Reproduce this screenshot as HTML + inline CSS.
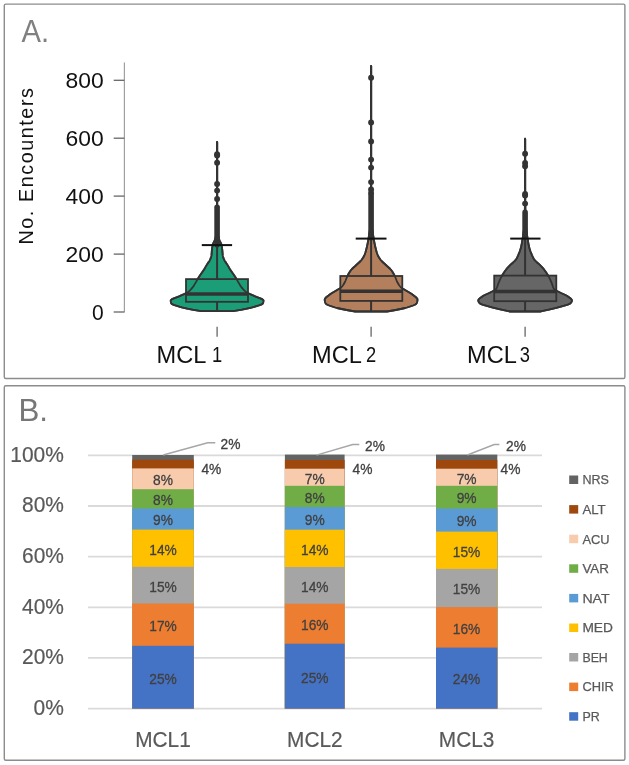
<!DOCTYPE html>
<html><head><meta charset="utf-8"><style>
html,body{margin:0;padding:0;background:#fff;}
svg{display:block;will-change:transform;}
text{font-family:"Liberation Sans",sans-serif;}
</style></head><body>
<svg width="629" height="765" viewBox="0 0 629 765">
<rect width="629" height="765" fill="#fff"/>
<rect x="4.3" y="4.1" width="620.6" height="374.4" rx="1.5" fill="none" stroke="#8c8c8c" stroke-width="1.4"/>
<text x="21.6" y="41.9" font-size="31" fill="#808080" textLength="27.6" lengthAdjust="spacingAndGlyphs">A.</text>
<line x1="124.4" y1="62.5" x2="124.4" y2="312.3" stroke="#a0a0a0" stroke-width="1.2"/>
<line x1="113.7" y1="312.0" x2="124.4" y2="312.0" stroke="#666" stroke-width="1.3"/>
<text x="103.7" y="319.5" font-size="21.3" text-anchor="end" fill="#111" textLength="11.7" lengthAdjust="spacingAndGlyphs">0</text>
<line x1="113.7" y1="254.1" x2="124.4" y2="254.1" stroke="#666" stroke-width="1.3"/>
<text x="103.7" y="261.6" font-size="21.3" text-anchor="end" fill="#111" textLength="38.2" lengthAdjust="spacingAndGlyphs">200</text>
<line x1="113.7" y1="196.1" x2="124.4" y2="196.1" stroke="#666" stroke-width="1.3"/>
<text x="103.7" y="203.6" font-size="21.3" text-anchor="end" fill="#111" textLength="38.2" lengthAdjust="spacingAndGlyphs">400</text>
<line x1="113.7" y1="138.2" x2="124.4" y2="138.2" stroke="#666" stroke-width="1.3"/>
<text x="103.7" y="145.7" font-size="21.3" text-anchor="end" fill="#111" textLength="38.2" lengthAdjust="spacingAndGlyphs">600</text>
<line x1="113.7" y1="80.3" x2="124.4" y2="80.3" stroke="#666" stroke-width="1.3"/>
<text x="103.7" y="87.8" font-size="21.3" text-anchor="end" fill="#111" textLength="38.2" lengthAdjust="spacingAndGlyphs">800</text>
<text transform="translate(33.3,166.3) rotate(-90)" font-size="19.8" text-anchor="middle" fill="#111" textLength="156.5" lengthAdjust="spacing">No. Encounters</text>
<line x1="217.1" y1="326.8" x2="217.1" y2="336.7" stroke="#666" stroke-width="1.3"/>
<line x1="371.1" y1="326.8" x2="371.1" y2="336.7" stroke="#666" stroke-width="1.3"/>
<line x1="525.1" y1="326.8" x2="525.1" y2="336.7" stroke="#666" stroke-width="1.3"/>
<text x="156.5" y="362.6" font-size="23.5" fill="#111" textLength="49.8" lengthAdjust="spacingAndGlyphs">MCL</text>
<text x="212.1" y="361.7" font-size="22" fill="#111" textLength="10.2" lengthAdjust="spacingAndGlyphs">1</text>
<text x="312.09999999999997" y="362.6" font-size="23.5" fill="#111" textLength="49.8" lengthAdjust="spacingAndGlyphs">MCL</text>
<text x="365.90000000000003" y="361.7" font-size="22" fill="#111" textLength="10.2" lengthAdjust="spacingAndGlyphs">2</text>
<text x="467.09999999999997" y="362.6" font-size="23.5" fill="#111" textLength="49.8" lengthAdjust="spacingAndGlyphs">MCL</text>
<text x="519.7" y="361.7" font-size="22" fill="#111" textLength="10.2" lengthAdjust="spacingAndGlyphs">3</text>
<path d="M217.00,141.90 L217.00,142.40 L217.00,142.90 L217.00,143.40 L217.00,143.90 L217.00,144.40 L217.00,144.90 L217.00,145.40 L217.00,145.90 L217.00,146.40 L217.00,146.90 L217.00,147.40 L217.00,147.90 L217.00,148.40 L217.00,148.90 L217.00,149.40 L217.00,149.90 L217.00,150.40 L217.00,150.90 L217.00,151.40 L217.00,151.90 L217.00,152.40 L217.00,152.90 L217.00,153.40 L217.00,153.90 L217.00,154.40 L217.00,154.90 L217.00,155.40 L217.00,155.90 L217.00,156.40 L217.00,156.90 L217.00,157.40 L217.00,157.90 L217.00,158.40 L217.00,158.90 L217.00,159.40 L217.00,159.90 L217.00,160.40 L217.00,160.90 L217.00,161.40 L217.00,161.90 L217.00,162.40 L217.00,162.90 L217.00,163.40 L217.00,163.90 L217.00,164.40 L217.00,164.90 L217.00,165.40 L217.00,165.90 L217.00,166.40 L217.00,166.90 L217.00,167.40 L217.00,167.90 L217.00,168.40 L217.00,168.90 L217.00,169.40 L217.00,169.90 L217.00,170.40 L217.00,170.90 L217.00,171.40 L217.00,171.90 L217.00,172.40 L217.00,172.90 L217.00,173.40 L217.00,173.90 L217.00,174.40 L217.00,174.90 L217.00,175.40 L217.00,175.90 L217.00,176.40 L217.00,176.90 L217.00,177.40 L217.00,177.90 L217.00,178.40 L217.00,178.90 L217.00,179.40 L217.00,179.90 L217.00,180.40 L217.00,180.90 L217.00,181.40 L217.00,181.90 L217.00,182.40 L217.00,182.90 L217.00,183.40 L217.00,183.90 L217.00,184.40 L217.00,184.90 L217.00,185.40 L217.00,185.90 L217.00,186.40 L217.00,186.90 L217.00,187.40 L217.00,187.90 L217.00,188.40 L217.00,188.90 L217.00,189.40 L217.00,189.90 L217.00,190.40 L217.00,190.90 L217.00,191.40 L217.00,191.90 L217.00,192.40 L217.00,192.90 L217.00,193.40 L217.00,193.90 L217.00,194.40 L217.00,194.90 L217.00,195.40 L217.00,195.90 L217.00,196.40 L217.00,196.90 L217.00,197.40 L217.00,197.90 L217.00,198.40 L217.00,198.90 L217.00,199.40 L217.00,199.90 L217.00,200.40 L217.00,200.90 L217.00,201.40 L217.00,201.90 L217.00,202.40 L217.00,202.90 L217.00,203.40 L217.00,203.90 L217.00,204.40 L216.99,204.90 L216.99,205.40 L216.99,205.90 L216.99,206.40 L216.99,206.90 L216.99,207.40 L216.99,207.90 L216.98,208.40 L216.98,208.90 L216.98,209.40 L216.98,209.90 L216.98,210.40 L216.97,210.90 L216.97,211.40 L216.97,211.90 L216.97,212.40 L216.96,212.90 L216.96,213.40 L216.96,213.90 L216.95,214.40 L216.95,214.90 L216.95,215.40 L216.94,215.90 L216.94,216.40 L216.93,216.90 L216.93,217.40 L216.92,217.90 L216.92,218.40 L216.92,218.90 L216.91,219.40 L216.91,219.90 L216.90,220.40 L216.89,220.90 L216.89,221.40 L216.88,221.90 L216.88,222.40 L216.87,222.90 L216.87,223.40 L216.86,223.90 L216.85,224.40 L216.85,224.90 L216.84,225.40 L216.83,225.90 L216.82,226.40 L216.82,226.90 L216.81,227.40 L216.80,227.90 L216.79,228.40 L216.77,228.90 L216.75,229.40 L216.72,229.90 L216.68,230.40 L216.63,230.90 L216.58,231.40 L216.53,231.90 L216.46,232.40 L216.40,232.90 L216.33,233.40 L216.25,233.90 L216.17,234.40 L216.09,234.90 L216.00,235.40 L215.91,235.90 L215.81,236.40 L215.72,236.90 L215.62,237.40 L215.52,237.90 L215.41,238.40 L215.26,238.90 L215.08,239.40 L214.87,239.90 L214.65,240.40 L214.41,240.90 L214.17,241.40 L213.92,241.90 L213.68,242.40 L213.45,242.90 L213.23,243.40 L213.03,243.90 L212.86,244.40 L212.72,244.90 L212.61,245.40 L212.51,245.90 L212.42,246.40 L212.33,246.90 L212.25,247.40 L212.17,247.90 L212.10,248.40 L212.03,248.90 L211.97,249.40 L211.91,249.90 L211.86,250.40 L211.81,250.90 L211.77,251.40 L211.73,251.90 L211.70,252.40 L211.66,252.90 L211.63,253.40 L211.59,253.90 L211.54,254.40 L211.49,254.90 L211.43,255.40 L211.35,255.90 L211.25,256.40 L211.11,256.90 L210.96,257.40 L210.78,257.90 L210.59,258.40 L210.38,258.90 L210.17,259.40 L209.94,259.90 L209.70,260.40 L209.42,260.90 L209.10,261.40 L208.76,261.90 L208.40,262.40 L208.04,262.90 L207.69,263.40 L207.36,263.90 L207.05,264.40 L206.75,264.90 L206.46,265.40 L206.17,265.90 L205.87,266.40 L205.58,266.90 L205.29,267.40 L204.99,267.90 L204.69,268.40 L204.37,268.90 L204.05,269.40 L203.72,269.90 L203.39,270.40 L203.05,270.90 L202.70,271.40 L202.35,271.90 L202.00,272.40 L201.65,272.90 L201.30,273.40 L200.95,273.90 L200.60,274.40 L200.26,274.90 L199.92,275.40 L199.58,275.90 L199.26,276.40 L198.93,276.90 L198.62,277.40 L198.32,277.90 L198.03,278.40 L197.75,278.90 L197.48,279.40 L197.20,279.90 L196.93,280.40 L196.66,280.90 L196.38,281.40 L196.10,281.90 L195.80,282.40 L195.50,282.90 L195.20,283.40 L194.89,283.90 L194.59,284.40 L194.28,284.90 L193.96,285.40 L193.63,285.90 L193.28,286.40 L192.93,286.90 L192.56,287.40 L192.16,287.90 L191.75,288.40 L191.33,288.90 L190.88,289.40 L190.41,289.90 L189.91,290.40 L189.38,290.90 L188.80,291.40 L188.18,291.90 L187.50,292.40 L186.70,292.90 L185.75,293.40 L184.68,293.90 L183.53,294.40 L182.35,294.90 L181.17,295.40 L180.04,295.90 L178.97,296.40 L177.76,296.90 L176.45,297.40 L175.10,297.90 L173.81,298.40 L172.64,298.90 L171.68,299.40 L171.01,299.90 L170.71,300.40 L170.71,300.90 L170.77,301.40 L170.85,301.90 L170.97,302.40 L171.12,302.90 L171.30,303.40 L171.73,303.90 L172.60,304.40 L173.80,304.90 L175.24,305.40 L176.82,305.90 L178.44,306.40 L180.05,306.90 L181.83,307.40 L183.83,307.90 L186.01,308.40 L188.34,308.90 L190.79,309.40 L193.42,309.90 L196.42,310.40 L199.56,310.90 L201.40,311.20 L232.80,311.20 L234.64,310.90 L237.78,310.40 L240.78,309.90 L243.41,309.40 L245.86,308.90 L248.19,308.40 L250.37,307.90 L252.37,307.40 L254.15,306.90 L255.76,306.40 L257.38,305.90 L258.96,305.40 L260.40,304.90 L261.60,304.40 L262.47,303.90 L262.90,303.40 L263.08,302.90 L263.23,302.40 L263.35,301.90 L263.43,301.40 L263.49,300.90 L263.49,300.40 L263.19,299.90 L262.52,299.40 L261.56,298.90 L260.39,298.40 L259.10,297.90 L257.75,297.40 L256.44,296.90 L255.23,296.40 L254.16,295.90 L253.03,295.40 L251.85,294.90 L250.67,294.40 L249.52,293.90 L248.45,293.40 L247.50,292.90 L246.70,292.40 L246.02,291.90 L245.40,291.40 L244.82,290.90 L244.29,290.40 L243.79,289.90 L243.32,289.40 L242.87,288.90 L242.45,288.40 L242.04,287.90 L241.64,287.40 L241.27,286.90 L240.92,286.40 L240.57,285.90 L240.24,285.40 L239.92,284.90 L239.61,284.40 L239.31,283.90 L239.00,283.40 L238.70,282.90 L238.40,282.40 L238.10,281.90 L237.82,281.40 L237.54,280.90 L237.27,280.40 L237.00,279.90 L236.72,279.40 L236.45,278.90 L236.17,278.40 L235.88,277.90 L235.58,277.40 L235.27,276.90 L234.94,276.40 L234.62,275.90 L234.28,275.40 L233.94,274.90 L233.60,274.40 L233.25,273.90 L232.90,273.40 L232.55,272.90 L232.20,272.40 L231.85,271.90 L231.50,271.40 L231.15,270.90 L230.81,270.40 L230.48,269.90 L230.15,269.40 L229.83,268.90 L229.51,268.40 L229.21,267.90 L228.91,267.40 L228.62,266.90 L228.33,266.40 L228.03,265.90 L227.74,265.40 L227.45,264.90 L227.15,264.40 L226.84,263.90 L226.51,263.40 L226.16,262.90 L225.80,262.40 L225.44,261.90 L225.10,261.40 L224.78,260.90 L224.50,260.40 L224.26,259.90 L224.03,259.40 L223.82,258.90 L223.61,258.40 L223.42,257.90 L223.24,257.40 L223.09,256.90 L222.95,256.40 L222.85,255.90 L222.77,255.40 L222.71,254.90 L222.66,254.40 L222.61,253.90 L222.57,253.40 L222.54,252.90 L222.50,252.40 L222.47,251.90 L222.43,251.40 L222.39,250.90 L222.34,250.40 L222.29,249.90 L222.23,249.40 L222.17,248.90 L222.10,248.40 L222.03,247.90 L221.95,247.40 L221.87,246.90 L221.78,246.40 L221.69,245.90 L221.59,245.40 L221.48,244.90 L221.34,244.40 L221.17,243.90 L220.97,243.40 L220.75,242.90 L220.52,242.40 L220.28,241.90 L220.03,241.40 L219.79,240.90 L219.55,240.40 L219.33,239.90 L219.12,239.40 L218.94,238.90 L218.79,238.40 L218.68,237.90 L218.58,237.40 L218.48,236.90 L218.39,236.40 L218.29,235.90 L218.20,235.40 L218.11,234.90 L218.03,234.40 L217.95,233.90 L217.87,233.40 L217.80,232.90 L217.74,232.40 L217.67,231.90 L217.62,231.40 L217.57,230.90 L217.52,230.40 L217.48,229.90 L217.45,229.40 L217.43,228.90 L217.41,228.40 L217.40,227.90 L217.39,227.40 L217.38,226.90 L217.38,226.40 L217.37,225.90 L217.36,225.40 L217.35,224.90 L217.35,224.40 L217.34,223.90 L217.33,223.40 L217.33,222.90 L217.32,222.40 L217.32,221.90 L217.31,221.40 L217.31,220.90 L217.30,220.40 L217.29,219.90 L217.29,219.40 L217.28,218.90 L217.28,218.40 L217.28,217.90 L217.27,217.40 L217.27,216.90 L217.26,216.40 L217.26,215.90 L217.25,215.40 L217.25,214.90 L217.25,214.40 L217.24,213.90 L217.24,213.40 L217.24,212.90 L217.23,212.40 L217.23,211.90 L217.23,211.40 L217.23,210.90 L217.22,210.40 L217.22,209.90 L217.22,209.40 L217.22,208.90 L217.22,208.40 L217.21,207.90 L217.21,207.40 L217.21,206.90 L217.21,206.40 L217.21,205.90 L217.21,205.40 L217.21,204.90 L217.20,204.40 L217.20,203.90 L217.20,203.40 L217.20,202.90 L217.20,202.40 L217.20,201.90 L217.20,201.40 L217.20,200.90 L217.20,200.40 L217.20,199.90 L217.20,199.40 L217.20,198.90 L217.20,198.40 L217.20,197.90 L217.20,197.40 L217.20,196.90 L217.20,196.40 L217.20,195.90 L217.20,195.40 L217.20,194.90 L217.20,194.40 L217.20,193.90 L217.20,193.40 L217.20,192.90 L217.20,192.40 L217.20,191.90 L217.20,191.40 L217.20,190.90 L217.20,190.40 L217.20,189.90 L217.20,189.40 L217.20,188.90 L217.20,188.40 L217.20,187.90 L217.20,187.40 L217.20,186.90 L217.20,186.40 L217.20,185.90 L217.20,185.40 L217.20,184.90 L217.20,184.40 L217.20,183.90 L217.20,183.40 L217.20,182.90 L217.20,182.40 L217.20,181.90 L217.20,181.40 L217.20,180.90 L217.20,180.40 L217.20,179.90 L217.20,179.40 L217.20,178.90 L217.20,178.40 L217.20,177.90 L217.20,177.40 L217.20,176.90 L217.20,176.40 L217.20,175.90 L217.20,175.40 L217.20,174.90 L217.20,174.40 L217.20,173.90 L217.20,173.40 L217.20,172.90 L217.20,172.40 L217.20,171.90 L217.20,171.40 L217.20,170.90 L217.20,170.40 L217.20,169.90 L217.20,169.40 L217.20,168.90 L217.20,168.40 L217.20,167.90 L217.20,167.40 L217.20,166.90 L217.20,166.40 L217.20,165.90 L217.20,165.40 L217.20,164.90 L217.20,164.40 L217.20,163.90 L217.20,163.40 L217.20,162.90 L217.20,162.40 L217.20,161.90 L217.20,161.40 L217.20,160.90 L217.20,160.40 L217.20,159.90 L217.20,159.40 L217.20,158.90 L217.20,158.40 L217.20,157.90 L217.20,157.40 L217.20,156.90 L217.20,156.40 L217.20,155.90 L217.20,155.40 L217.20,154.90 L217.20,154.40 L217.20,153.90 L217.20,153.40 L217.20,152.90 L217.20,152.40 L217.20,151.90 L217.20,151.40 L217.20,150.90 L217.20,150.40 L217.20,149.90 L217.20,149.40 L217.20,148.90 L217.20,148.40 L217.20,147.90 L217.20,147.40 L217.20,146.90 L217.20,146.40 L217.20,145.90 L217.20,145.40 L217.20,144.90 L217.20,144.40 L217.20,143.90 L217.20,143.40 L217.20,142.90 L217.20,142.40 L217.20,141.90 Z" fill="#1b9e77" stroke="#333" stroke-width="1.8" stroke-linejoin="round"/>
<line x1="217.1" y1="141.9" x2="217.1" y2="311.2" stroke="#333" stroke-width="2"/>
<rect x="186.0" y="279.1" width="62.0" height="22.7" fill="#1b9e77"/>
<path d="M217.00,141.90 L217.00,142.40 L217.00,142.90 L217.00,143.40 L217.00,143.90 L217.00,144.40 L217.00,144.90 L217.00,145.40 L217.00,145.90 L217.00,146.40 L217.00,146.90 L217.00,147.40 L217.00,147.90 L217.00,148.40 L217.00,148.90 L217.00,149.40 L217.00,149.90 L217.00,150.40 L217.00,150.90 L217.00,151.40 L217.00,151.90 L217.00,152.40 L217.00,152.90 L217.00,153.40 L217.00,153.90 L217.00,154.40 L217.00,154.90 L217.00,155.40 L217.00,155.90 L217.00,156.40 L217.00,156.90 L217.00,157.40 L217.00,157.90 L217.00,158.40 L217.00,158.90 L217.00,159.40 L217.00,159.90 L217.00,160.40 L217.00,160.90 L217.00,161.40 L217.00,161.90 L217.00,162.40 L217.00,162.90 L217.00,163.40 L217.00,163.90 L217.00,164.40 L217.00,164.90 L217.00,165.40 L217.00,165.90 L217.00,166.40 L217.00,166.90 L217.00,167.40 L217.00,167.90 L217.00,168.40 L217.00,168.90 L217.00,169.40 L217.00,169.90 L217.00,170.40 L217.00,170.90 L217.00,171.40 L217.00,171.90 L217.00,172.40 L217.00,172.90 L217.00,173.40 L217.00,173.90 L217.00,174.40 L217.00,174.90 L217.00,175.40 L217.00,175.90 L217.00,176.40 L217.00,176.90 L217.00,177.40 L217.00,177.90 L217.00,178.40 L217.00,178.90 L217.00,179.40 L217.00,179.90 L217.00,180.40 L217.00,180.90 L217.00,181.40 L217.00,181.90 L217.00,182.40 L217.00,182.90 L217.00,183.40 L217.00,183.90 L217.00,184.40 L217.00,184.90 L217.00,185.40 L217.00,185.90 L217.00,186.40 L217.00,186.90 L217.00,187.40 L217.00,187.90 L217.00,188.40 L217.00,188.90 L217.00,189.40 L217.00,189.90 L217.00,190.40 L217.00,190.90 L217.00,191.40 L217.00,191.90 L217.00,192.40 L217.00,192.90 L217.00,193.40 L217.00,193.90 L217.00,194.40 L217.00,194.90 L217.00,195.40 L217.00,195.90 L217.00,196.40 L217.00,196.90 L217.00,197.40 L217.00,197.90 L217.00,198.40 L217.00,198.90 L217.00,199.40 L217.00,199.90 L217.00,200.40 L217.00,200.90 L217.00,201.40 L217.00,201.90 L217.00,202.40 L217.00,202.90 L217.00,203.40 L217.00,203.90 L217.00,204.40 L216.99,204.90 L216.99,205.40 L216.99,205.90 L216.99,206.40 L216.99,206.90 L216.99,207.40 L216.99,207.90 L216.98,208.40 L216.98,208.90 L216.98,209.40 L216.98,209.90 L216.98,210.40 L216.97,210.90 L216.97,211.40 L216.97,211.90 L216.97,212.40 L216.96,212.90 L216.96,213.40 L216.96,213.90 L216.95,214.40 L216.95,214.90 L216.95,215.40 L216.94,215.90 L216.94,216.40 L216.93,216.90 L216.93,217.40 L216.92,217.90 L216.92,218.40 L216.92,218.90 L216.91,219.40 L216.91,219.90 L216.90,220.40 L216.89,220.90 L216.89,221.40 L216.88,221.90 L216.88,222.40 L216.87,222.90 L216.87,223.40 L216.86,223.90 L216.85,224.40 L216.85,224.90 L216.84,225.40 L216.83,225.90 L216.82,226.40 L216.82,226.90 L216.81,227.40 L216.80,227.90 L216.79,228.40 L216.77,228.90 L216.75,229.40 L216.72,229.90 L216.68,230.40 L216.63,230.90 L216.58,231.40 L216.53,231.90 L216.46,232.40 L216.40,232.90 L216.33,233.40 L216.25,233.90 L216.17,234.40 L216.09,234.90 L216.00,235.40 L215.91,235.90 L215.81,236.40 L215.72,236.90 L215.62,237.40 L215.52,237.90 L215.41,238.40 L215.26,238.90 L215.08,239.40 L214.87,239.90 L214.65,240.40 L214.41,240.90 L214.17,241.40 L213.92,241.90 L213.68,242.40 L213.45,242.90 L213.23,243.40 L213.03,243.90 L212.86,244.40 L212.72,244.90 L212.61,245.40 L212.51,245.90 L212.42,246.40 L212.33,246.90 L212.25,247.40 L212.17,247.90 L212.10,248.40 L212.03,248.90 L211.97,249.40 L211.91,249.90 L211.86,250.40 L211.81,250.90 L211.77,251.40 L211.73,251.90 L211.70,252.40 L211.66,252.90 L211.63,253.40 L211.59,253.90 L211.54,254.40 L211.49,254.90 L211.43,255.40 L211.35,255.90 L211.25,256.40 L211.11,256.90 L210.96,257.40 L210.78,257.90 L210.59,258.40 L210.38,258.90 L210.17,259.40 L209.94,259.90 L209.70,260.40 L209.42,260.90 L209.10,261.40 L208.76,261.90 L208.40,262.40 L208.04,262.90 L207.69,263.40 L207.36,263.90 L207.05,264.40 L206.75,264.90 L206.46,265.40 L206.17,265.90 L205.87,266.40 L205.58,266.90 L205.29,267.40 L204.99,267.90 L204.69,268.40 L204.37,268.90 L204.05,269.40 L203.72,269.90 L203.39,270.40 L203.05,270.90 L202.70,271.40 L202.35,271.90 L202.00,272.40 L201.65,272.90 L201.30,273.40 L200.95,273.90 L200.60,274.40 L200.26,274.90 L199.92,275.40 L199.58,275.90 L199.26,276.40 L198.93,276.90 L198.62,277.40 L198.32,277.90 L198.03,278.40 L197.75,278.90 L197.48,279.40 L197.20,279.90 L196.93,280.40 L196.66,280.90 L196.38,281.40 L196.10,281.90 L195.80,282.40 L195.50,282.90 L195.20,283.40 L194.89,283.90 L194.59,284.40 L194.28,284.90 L193.96,285.40 L193.63,285.90 L193.28,286.40 L192.93,286.90 L192.56,287.40 L192.16,287.90 L191.75,288.40 L191.33,288.90 L190.88,289.40 L190.41,289.90 L189.91,290.40 L189.38,290.90 L188.80,291.40 L188.18,291.90 L187.50,292.40 L186.70,292.90 L185.75,293.40 L184.68,293.90 L183.53,294.40 L182.35,294.90 L181.17,295.40 L180.04,295.90 L178.97,296.40 L177.76,296.90 L176.45,297.40 L175.10,297.90 L173.81,298.40 L172.64,298.90 L171.68,299.40 L171.01,299.90 L170.71,300.40 L170.71,300.90 L170.77,301.40 L170.85,301.90 L170.97,302.40 L171.12,302.90 L171.30,303.40 L171.73,303.90 L172.60,304.40 L173.80,304.90 L175.24,305.40 L176.82,305.90 L178.44,306.40 L180.05,306.90 L181.83,307.40 L183.83,307.90 L186.01,308.40 L188.34,308.90 L190.79,309.40 L193.42,309.90 L196.42,310.40 L199.56,310.90 L201.40,311.20 L232.80,311.20 L234.64,310.90 L237.78,310.40 L240.78,309.90 L243.41,309.40 L245.86,308.90 L248.19,308.40 L250.37,307.90 L252.37,307.40 L254.15,306.90 L255.76,306.40 L257.38,305.90 L258.96,305.40 L260.40,304.90 L261.60,304.40 L262.47,303.90 L262.90,303.40 L263.08,302.90 L263.23,302.40 L263.35,301.90 L263.43,301.40 L263.49,300.90 L263.49,300.40 L263.19,299.90 L262.52,299.40 L261.56,298.90 L260.39,298.40 L259.10,297.90 L257.75,297.40 L256.44,296.90 L255.23,296.40 L254.16,295.90 L253.03,295.40 L251.85,294.90 L250.67,294.40 L249.52,293.90 L248.45,293.40 L247.50,292.90 L246.70,292.40 L246.02,291.90 L245.40,291.40 L244.82,290.90 L244.29,290.40 L243.79,289.90 L243.32,289.40 L242.87,288.90 L242.45,288.40 L242.04,287.90 L241.64,287.40 L241.27,286.90 L240.92,286.40 L240.57,285.90 L240.24,285.40 L239.92,284.90 L239.61,284.40 L239.31,283.90 L239.00,283.40 L238.70,282.90 L238.40,282.40 L238.10,281.90 L237.82,281.40 L237.54,280.90 L237.27,280.40 L237.00,279.90 L236.72,279.40 L236.45,278.90 L236.17,278.40 L235.88,277.90 L235.58,277.40 L235.27,276.90 L234.94,276.40 L234.62,275.90 L234.28,275.40 L233.94,274.90 L233.60,274.40 L233.25,273.90 L232.90,273.40 L232.55,272.90 L232.20,272.40 L231.85,271.90 L231.50,271.40 L231.15,270.90 L230.81,270.40 L230.48,269.90 L230.15,269.40 L229.83,268.90 L229.51,268.40 L229.21,267.90 L228.91,267.40 L228.62,266.90 L228.33,266.40 L228.03,265.90 L227.74,265.40 L227.45,264.90 L227.15,264.40 L226.84,263.90 L226.51,263.40 L226.16,262.90 L225.80,262.40 L225.44,261.90 L225.10,261.40 L224.78,260.90 L224.50,260.40 L224.26,259.90 L224.03,259.40 L223.82,258.90 L223.61,258.40 L223.42,257.90 L223.24,257.40 L223.09,256.90 L222.95,256.40 L222.85,255.90 L222.77,255.40 L222.71,254.90 L222.66,254.40 L222.61,253.90 L222.57,253.40 L222.54,252.90 L222.50,252.40 L222.47,251.90 L222.43,251.40 L222.39,250.90 L222.34,250.40 L222.29,249.90 L222.23,249.40 L222.17,248.90 L222.10,248.40 L222.03,247.90 L221.95,247.40 L221.87,246.90 L221.78,246.40 L221.69,245.90 L221.59,245.40 L221.48,244.90 L221.34,244.40 L221.17,243.90 L220.97,243.40 L220.75,242.90 L220.52,242.40 L220.28,241.90 L220.03,241.40 L219.79,240.90 L219.55,240.40 L219.33,239.90 L219.12,239.40 L218.94,238.90 L218.79,238.40 L218.68,237.90 L218.58,237.40 L218.48,236.90 L218.39,236.40 L218.29,235.90 L218.20,235.40 L218.11,234.90 L218.03,234.40 L217.95,233.90 L217.87,233.40 L217.80,232.90 L217.74,232.40 L217.67,231.90 L217.62,231.40 L217.57,230.90 L217.52,230.40 L217.48,229.90 L217.45,229.40 L217.43,228.90 L217.41,228.40 L217.40,227.90 L217.39,227.40 L217.38,226.90 L217.38,226.40 L217.37,225.90 L217.36,225.40 L217.35,224.90 L217.35,224.40 L217.34,223.90 L217.33,223.40 L217.33,222.90 L217.32,222.40 L217.32,221.90 L217.31,221.40 L217.31,220.90 L217.30,220.40 L217.29,219.90 L217.29,219.40 L217.28,218.90 L217.28,218.40 L217.28,217.90 L217.27,217.40 L217.27,216.90 L217.26,216.40 L217.26,215.90 L217.25,215.40 L217.25,214.90 L217.25,214.40 L217.24,213.90 L217.24,213.40 L217.24,212.90 L217.23,212.40 L217.23,211.90 L217.23,211.40 L217.23,210.90 L217.22,210.40 L217.22,209.90 L217.22,209.40 L217.22,208.90 L217.22,208.40 L217.21,207.90 L217.21,207.40 L217.21,206.90 L217.21,206.40 L217.21,205.90 L217.21,205.40 L217.21,204.90 L217.20,204.40 L217.20,203.90 L217.20,203.40 L217.20,202.90 L217.20,202.40 L217.20,201.90 L217.20,201.40 L217.20,200.90 L217.20,200.40 L217.20,199.90 L217.20,199.40 L217.20,198.90 L217.20,198.40 L217.20,197.90 L217.20,197.40 L217.20,196.90 L217.20,196.40 L217.20,195.90 L217.20,195.40 L217.20,194.90 L217.20,194.40 L217.20,193.90 L217.20,193.40 L217.20,192.90 L217.20,192.40 L217.20,191.90 L217.20,191.40 L217.20,190.90 L217.20,190.40 L217.20,189.90 L217.20,189.40 L217.20,188.90 L217.20,188.40 L217.20,187.90 L217.20,187.40 L217.20,186.90 L217.20,186.40 L217.20,185.90 L217.20,185.40 L217.20,184.90 L217.20,184.40 L217.20,183.90 L217.20,183.40 L217.20,182.90 L217.20,182.40 L217.20,181.90 L217.20,181.40 L217.20,180.90 L217.20,180.40 L217.20,179.90 L217.20,179.40 L217.20,178.90 L217.20,178.40 L217.20,177.90 L217.20,177.40 L217.20,176.90 L217.20,176.40 L217.20,175.90 L217.20,175.40 L217.20,174.90 L217.20,174.40 L217.20,173.90 L217.20,173.40 L217.20,172.90 L217.20,172.40 L217.20,171.90 L217.20,171.40 L217.20,170.90 L217.20,170.40 L217.20,169.90 L217.20,169.40 L217.20,168.90 L217.20,168.40 L217.20,167.90 L217.20,167.40 L217.20,166.90 L217.20,166.40 L217.20,165.90 L217.20,165.40 L217.20,164.90 L217.20,164.40 L217.20,163.90 L217.20,163.40 L217.20,162.90 L217.20,162.40 L217.20,161.90 L217.20,161.40 L217.20,160.90 L217.20,160.40 L217.20,159.90 L217.20,159.40 L217.20,158.90 L217.20,158.40 L217.20,157.90 L217.20,157.40 L217.20,156.90 L217.20,156.40 L217.20,155.90 L217.20,155.40 L217.20,154.90 L217.20,154.40 L217.20,153.90 L217.20,153.40 L217.20,152.90 L217.20,152.40 L217.20,151.90 L217.20,151.40 L217.20,150.90 L217.20,150.40 L217.20,149.90 L217.20,149.40 L217.20,148.90 L217.20,148.40 L217.20,147.90 L217.20,147.40 L217.20,146.90 L217.20,146.40 L217.20,145.90 L217.20,145.40 L217.20,144.90 L217.20,144.40 L217.20,143.90 L217.20,143.40 L217.20,142.90 L217.20,142.40 L217.20,141.90 Z" fill="none" stroke="#333" stroke-width="1.8" stroke-linejoin="round"/>
<rect x="186.0" y="279.1" width="62.0" height="22.7" fill="none" stroke="#333" stroke-width="1.8"/>
<line x1="186.0" y1="293.9" x2="248.0" y2="293.9" stroke="#333" stroke-width="3.5"/>
<circle cx="217.1" cy="154.2" r="2.95" fill="#333"/>
<circle cx="217.1" cy="155.5" r="2.95" fill="#333"/>
<circle cx="217.1" cy="162.8" r="2.95" fill="#333"/>
<circle cx="217.1" cy="183.9" r="2.95" fill="#333"/>
<circle cx="217.1" cy="190.6" r="2.95" fill="#333"/>
<circle cx="217.1" cy="198.9" r="2.95" fill="#333"/>
<line x1="217.1" y1="207.2" x2="217.1" y2="244.8" stroke="#333" stroke-width="5.6" stroke-linecap="round"/>
<line x1="201.8" y1="245.1" x2="232.1" y2="245.1" stroke="#111" stroke-width="2"/>
<path d="M371.00,66.00 L371.00,66.50 L371.00,67.00 L371.00,67.50 L371.00,68.00 L371.00,68.50 L371.00,69.00 L371.00,69.50 L371.00,70.00 L371.00,70.50 L371.00,71.00 L371.00,71.50 L371.00,72.00 L371.00,72.50 L371.00,73.00 L371.00,73.50 L371.00,74.00 L371.00,74.50 L371.00,75.00 L371.00,75.50 L371.00,76.00 L371.00,76.50 L371.00,77.00 L371.00,77.50 L371.00,78.00 L371.00,78.50 L371.00,79.00 L371.00,79.50 L371.00,80.00 L371.00,80.50 L371.00,81.00 L371.00,81.50 L371.00,82.00 L371.00,82.50 L371.00,83.00 L371.00,83.50 L371.00,84.00 L371.00,84.50 L371.00,85.00 L371.00,85.50 L371.00,86.00 L371.00,86.50 L371.00,87.00 L371.00,87.50 L371.00,88.00 L371.00,88.50 L371.00,89.00 L371.00,89.50 L371.00,90.00 L371.00,90.50 L371.00,91.00 L371.00,91.50 L371.00,92.00 L371.00,92.50 L371.00,93.00 L371.00,93.50 L371.00,94.00 L371.00,94.50 L371.00,95.00 L371.00,95.50 L371.00,96.00 L371.00,96.50 L371.00,97.00 L371.00,97.50 L371.00,98.00 L371.00,98.50 L371.00,99.00 L371.00,99.50 L371.00,100.00 L371.00,100.50 L371.00,101.00 L371.00,101.50 L371.00,102.00 L371.00,102.50 L371.00,103.00 L371.00,103.50 L371.00,104.00 L371.00,104.50 L371.00,105.00 L371.00,105.50 L371.00,106.00 L371.00,106.50 L371.00,107.00 L371.00,107.50 L371.00,108.00 L371.00,108.50 L371.00,109.00 L371.00,109.50 L371.00,110.00 L371.00,110.50 L371.00,111.00 L371.00,111.50 L371.00,112.00 L371.00,112.50 L371.00,113.00 L371.00,113.50 L371.00,114.00 L371.00,114.50 L371.00,115.00 L371.00,115.50 L371.00,116.00 L371.00,116.50 L371.00,117.00 L371.00,117.50 L371.00,118.00 L371.00,118.50 L371.00,119.00 L371.00,119.50 L371.00,120.00 L371.00,120.50 L371.00,121.00 L371.00,121.50 L371.00,122.00 L371.00,122.50 L371.00,123.00 L371.00,123.50 L371.00,124.00 L371.00,124.50 L371.00,125.00 L371.00,125.50 L371.00,126.00 L371.00,126.50 L371.00,127.00 L371.00,127.50 L371.00,128.00 L371.00,128.50 L371.00,129.00 L371.00,129.50 L371.00,130.00 L371.00,130.50 L371.00,131.00 L371.00,131.50 L371.00,132.00 L371.00,132.50 L371.00,133.00 L371.00,133.50 L371.00,134.00 L371.00,134.50 L371.00,135.00 L371.00,135.50 L371.00,136.00 L371.00,136.50 L371.00,137.00 L371.00,137.50 L371.00,138.00 L371.00,138.50 L371.00,139.00 L371.00,139.50 L371.00,140.00 L371.00,140.50 L371.00,141.00 L371.00,141.50 L371.00,142.00 L371.00,142.50 L371.00,143.00 L371.00,143.50 L371.00,144.00 L371.00,144.50 L371.00,145.00 L371.00,145.50 L371.00,146.00 L371.00,146.50 L371.00,147.00 L371.00,147.50 L371.00,148.00 L371.00,148.50 L371.00,149.00 L371.00,149.50 L371.00,150.00 L371.00,150.50 L371.00,151.00 L371.00,151.50 L371.00,152.00 L371.00,152.50 L371.00,153.00 L371.00,153.50 L371.00,154.00 L371.00,154.50 L371.00,155.00 L371.00,155.50 L371.00,156.00 L371.00,156.50 L371.00,157.00 L371.00,157.50 L371.00,158.00 L371.00,158.50 L371.00,159.00 L371.00,159.50 L371.00,160.00 L371.00,160.50 L371.00,161.00 L371.00,161.50 L371.00,162.00 L371.00,162.50 L371.00,163.00 L371.00,163.50 L371.00,164.00 L371.00,164.50 L371.00,165.00 L371.00,165.50 L371.00,166.00 L371.00,166.50 L371.00,167.00 L371.00,167.50 L371.00,168.00 L371.00,168.50 L371.00,169.00 L371.00,169.50 L371.00,170.00 L371.00,170.50 L371.00,171.00 L371.00,171.50 L371.00,172.00 L371.00,172.50 L371.00,173.00 L371.00,173.50 L371.00,174.00 L371.00,174.50 L371.00,175.00 L371.00,175.50 L371.00,176.00 L371.00,176.50 L371.00,177.00 L371.00,177.50 L371.00,178.00 L371.00,178.50 L371.00,179.00 L371.00,179.50 L371.00,180.00 L371.00,180.50 L371.00,181.00 L371.00,181.50 L371.00,182.00 L371.00,182.50 L371.00,183.00 L371.00,183.50 L370.99,184.00 L370.99,184.50 L370.99,185.00 L370.99,185.50 L370.99,186.00 L370.99,186.50 L370.98,187.00 L370.98,187.50 L370.98,188.00 L370.98,188.50 L370.97,189.00 L370.97,189.50 L370.97,190.00 L370.96,190.50 L370.96,191.00 L370.96,191.50 L370.95,192.00 L370.95,192.50 L370.95,193.00 L370.94,193.50 L370.94,194.00 L370.93,194.50 L370.93,195.00 L370.92,195.50 L370.92,196.00 L370.91,196.50 L370.91,197.00 L370.90,197.50 L370.89,198.00 L370.89,198.50 L370.88,199.00 L370.87,199.50 L370.87,200.00 L370.86,200.50 L370.85,201.00 L370.85,201.50 L370.84,202.00 L370.83,202.50 L370.82,203.00 L370.82,203.50 L370.81,204.00 L370.80,204.50 L370.79,205.00 L370.78,205.50 L370.77,206.00 L370.77,206.50 L370.76,207.00 L370.75,207.50 L370.74,208.00 L370.73,208.50 L370.72,209.00 L370.71,209.50 L370.70,210.00 L370.69,210.50 L370.68,211.00 L370.67,211.50 L370.65,212.00 L370.64,212.50 L370.63,213.00 L370.62,213.50 L370.61,214.00 L370.60,214.50 L370.58,215.00 L370.57,215.50 L370.56,216.00 L370.55,216.50 L370.53,217.00 L370.52,217.50 L370.51,218.00 L370.49,218.50 L370.48,219.00 L370.47,219.50 L370.45,220.00 L370.44,220.50 L370.42,221.00 L370.41,221.50 L370.39,222.00 L370.38,222.50 L370.36,223.00 L370.35,223.50 L370.33,224.00 L370.32,224.50 L370.30,225.00 L370.28,225.50 L370.26,226.00 L370.22,226.50 L370.19,227.00 L370.15,227.50 L370.10,228.00 L370.05,228.50 L369.99,229.00 L369.93,229.50 L369.87,230.00 L369.80,230.50 L369.74,231.00 L369.66,231.50 L369.59,232.00 L369.51,232.50 L369.43,233.00 L369.35,233.50 L369.27,234.00 L369.19,234.50 L369.10,235.00 L369.02,235.50 L368.93,236.00 L368.85,236.50 L368.76,237.00 L368.68,237.50 L368.60,238.00 L368.52,238.50 L368.43,239.00 L368.35,239.50 L368.27,240.00 L368.18,240.50 L368.09,241.00 L368.00,241.50 L367.90,242.00 L367.81,242.50 L367.71,243.00 L367.61,243.50 L367.51,244.00 L367.40,244.50 L367.30,245.00 L367.19,245.50 L367.08,246.00 L366.96,246.50 L366.85,247.00 L366.73,247.50 L366.61,248.00 L366.49,248.50 L366.37,249.00 L366.25,249.50 L366.12,250.00 L365.99,250.50 L365.85,251.00 L365.71,251.50 L365.56,252.00 L365.41,252.50 L365.24,253.00 L365.07,253.50 L364.89,254.00 L364.70,254.50 L364.49,255.00 L364.27,255.50 L364.02,256.00 L363.76,256.50 L363.48,257.00 L363.19,257.50 L362.87,258.00 L362.54,258.50 L362.20,259.00 L361.85,259.50 L361.47,260.00 L361.05,260.50 L360.59,261.00 L360.09,261.50 L359.57,262.00 L359.03,262.50 L358.48,263.00 L357.92,263.50 L357.37,264.00 L356.83,264.50 L356.30,265.00 L355.77,265.50 L355.23,266.00 L354.66,266.50 L354.10,267.00 L353.54,267.50 L352.99,268.00 L352.46,268.50 L351.95,269.00 L351.48,269.50 L351.06,270.00 L350.67,270.50 L350.32,271.00 L349.97,271.50 L349.65,272.00 L349.34,272.50 L349.04,273.00 L348.76,273.50 L348.48,274.00 L348.22,274.50 L347.96,275.00 L347.70,275.50 L347.45,276.00 L347.22,276.50 L347.00,277.00 L346.79,277.50 L346.59,278.00 L346.39,278.50 L346.20,279.00 L346.00,279.50 L345.80,280.00 L345.60,280.50 L345.38,281.00 L345.15,281.50 L344.91,282.00 L344.65,282.50 L344.38,283.00 L344.10,283.50 L343.81,284.00 L343.51,284.50 L343.18,285.00 L342.84,285.50 L342.46,286.00 L342.05,286.50 L341.59,287.00 L341.07,287.50 L340.40,288.00 L339.62,288.50 L338.78,289.00 L337.92,289.50 L337.10,290.00 L336.30,290.50 L335.46,291.00 L334.60,291.50 L333.73,292.00 L332.87,292.50 L332.03,293.00 L331.23,293.50 L330.47,294.00 L329.78,294.50 L329.15,295.00 L328.51,295.50 L327.84,296.00 L327.19,296.50 L326.56,297.00 L325.98,297.50 L325.49,298.00 L325.09,298.50 L324.82,299.00 L324.70,299.50 L324.71,300.00 L324.76,300.50 L324.84,301.00 L324.95,301.50 L325.08,302.00 L325.25,302.50 L325.43,303.00 L325.65,303.50 L326.12,304.00 L326.89,304.50 L327.93,305.00 L329.18,305.50 L330.57,306.00 L332.06,306.50 L333.59,307.00 L335.18,307.50 L337.07,308.00 L339.24,308.50 L341.59,309.00 L344.07,309.50 L346.60,310.00 L349.32,310.50 L352.26,311.00 L355.20,311.50 L387.00,311.50 L389.94,311.00 L392.88,310.50 L395.60,310.00 L398.13,309.50 L400.61,309.00 L402.96,308.50 L405.13,308.00 L407.02,307.50 L408.61,307.00 L410.14,306.50 L411.63,306.00 L413.02,305.50 L414.27,305.00 L415.31,304.50 L416.08,304.00 L416.55,303.50 L416.77,303.00 L416.95,302.50 L417.12,302.00 L417.25,301.50 L417.36,301.00 L417.44,300.50 L417.49,300.00 L417.50,299.50 L417.38,299.00 L417.11,298.50 L416.71,298.00 L416.22,297.50 L415.64,297.00 L415.01,296.50 L414.36,296.00 L413.69,295.50 L413.05,295.00 L412.42,294.50 L411.73,294.00 L410.97,293.50 L410.17,293.00 L409.33,292.50 L408.47,292.00 L407.60,291.50 L406.74,291.00 L405.90,290.50 L405.10,290.00 L404.28,289.50 L403.42,289.00 L402.58,288.50 L401.80,288.00 L401.13,287.50 L400.61,287.00 L400.15,286.50 L399.74,286.00 L399.36,285.50 L399.02,285.00 L398.69,284.50 L398.39,284.00 L398.10,283.50 L397.82,283.00 L397.55,282.50 L397.29,282.00 L397.05,281.50 L396.82,281.00 L396.60,280.50 L396.40,280.00 L396.20,279.50 L396.00,279.00 L395.81,278.50 L395.61,278.00 L395.41,277.50 L395.20,277.00 L394.98,276.50 L394.75,276.00 L394.50,275.50 L394.24,275.00 L393.98,274.50 L393.72,274.00 L393.44,273.50 L393.16,273.00 L392.86,272.50 L392.55,272.00 L392.23,271.50 L391.88,271.00 L391.53,270.50 L391.14,270.00 L390.72,269.50 L390.25,269.00 L389.74,268.50 L389.21,268.00 L388.66,267.50 L388.10,267.00 L387.54,266.50 L386.97,266.00 L386.43,265.50 L385.90,265.00 L385.37,264.50 L384.83,264.00 L384.28,263.50 L383.72,263.00 L383.17,262.50 L382.63,262.00 L382.11,261.50 L381.61,261.00 L381.15,260.50 L380.73,260.00 L380.35,259.50 L380.00,259.00 L379.66,258.50 L379.33,258.00 L379.01,257.50 L378.72,257.00 L378.44,256.50 L378.18,256.00 L377.93,255.50 L377.71,255.00 L377.50,254.50 L377.31,254.00 L377.13,253.50 L376.96,253.00 L376.79,252.50 L376.64,252.00 L376.49,251.50 L376.35,251.00 L376.21,250.50 L376.08,250.00 L375.95,249.50 L375.83,249.00 L375.71,248.50 L375.59,248.00 L375.47,247.50 L375.35,247.00 L375.24,246.50 L375.12,246.00 L375.01,245.50 L374.90,245.00 L374.80,244.50 L374.69,244.00 L374.59,243.50 L374.49,243.00 L374.39,242.50 L374.30,242.00 L374.20,241.50 L374.11,241.00 L374.02,240.50 L373.93,240.00 L373.85,239.50 L373.77,239.00 L373.68,238.50 L373.60,238.00 L373.52,237.50 L373.44,237.00 L373.35,236.50 L373.27,236.00 L373.18,235.50 L373.10,235.00 L373.01,234.50 L372.93,234.00 L372.85,233.50 L372.77,233.00 L372.69,232.50 L372.61,232.00 L372.54,231.50 L372.46,231.00 L372.40,230.50 L372.33,230.00 L372.27,229.50 L372.21,229.00 L372.15,228.50 L372.10,228.00 L372.05,227.50 L372.01,227.00 L371.98,226.50 L371.94,226.00 L371.92,225.50 L371.90,225.00 L371.88,224.50 L371.87,224.00 L371.85,223.50 L371.84,223.00 L371.82,222.50 L371.81,222.00 L371.79,221.50 L371.78,221.00 L371.76,220.50 L371.75,220.00 L371.73,219.50 L371.72,219.00 L371.71,218.50 L371.69,218.00 L371.68,217.50 L371.67,217.00 L371.65,216.50 L371.64,216.00 L371.63,215.50 L371.62,215.00 L371.60,214.50 L371.59,214.00 L371.58,213.50 L371.57,213.00 L371.56,212.50 L371.55,212.00 L371.53,211.50 L371.52,211.00 L371.51,210.50 L371.50,210.00 L371.49,209.50 L371.48,209.00 L371.47,208.50 L371.46,208.00 L371.45,207.50 L371.44,207.00 L371.43,206.50 L371.43,206.00 L371.42,205.50 L371.41,205.00 L371.40,204.50 L371.39,204.00 L371.38,203.50 L371.38,203.00 L371.37,202.50 L371.36,202.00 L371.35,201.50 L371.35,201.00 L371.34,200.50 L371.33,200.00 L371.33,199.50 L371.32,199.00 L371.31,198.50 L371.31,198.00 L371.30,197.50 L371.29,197.00 L371.29,196.50 L371.28,196.00 L371.28,195.50 L371.27,195.00 L371.27,194.50 L371.26,194.00 L371.26,193.50 L371.25,193.00 L371.25,192.50 L371.25,192.00 L371.24,191.50 L371.24,191.00 L371.24,190.50 L371.23,190.00 L371.23,189.50 L371.23,189.00 L371.22,188.50 L371.22,188.00 L371.22,187.50 L371.22,187.00 L371.21,186.50 L371.21,186.00 L371.21,185.50 L371.21,185.00 L371.21,184.50 L371.21,184.00 L371.20,183.50 L371.20,183.00 L371.20,182.50 L371.20,182.00 L371.20,181.50 L371.20,181.00 L371.20,180.50 L371.20,180.00 L371.20,179.50 L371.20,179.00 L371.20,178.50 L371.20,178.00 L371.20,177.50 L371.20,177.00 L371.20,176.50 L371.20,176.00 L371.20,175.50 L371.20,175.00 L371.20,174.50 L371.20,174.00 L371.20,173.50 L371.20,173.00 L371.20,172.50 L371.20,172.00 L371.20,171.50 L371.20,171.00 L371.20,170.50 L371.20,170.00 L371.20,169.50 L371.20,169.00 L371.20,168.50 L371.20,168.00 L371.20,167.50 L371.20,167.00 L371.20,166.50 L371.20,166.00 L371.20,165.50 L371.20,165.00 L371.20,164.50 L371.20,164.00 L371.20,163.50 L371.20,163.00 L371.20,162.50 L371.20,162.00 L371.20,161.50 L371.20,161.00 L371.20,160.50 L371.20,160.00 L371.20,159.50 L371.20,159.00 L371.20,158.50 L371.20,158.00 L371.20,157.50 L371.20,157.00 L371.20,156.50 L371.20,156.00 L371.20,155.50 L371.20,155.00 L371.20,154.50 L371.20,154.00 L371.20,153.50 L371.20,153.00 L371.20,152.50 L371.20,152.00 L371.20,151.50 L371.20,151.00 L371.20,150.50 L371.20,150.00 L371.20,149.50 L371.20,149.00 L371.20,148.50 L371.20,148.00 L371.20,147.50 L371.20,147.00 L371.20,146.50 L371.20,146.00 L371.20,145.50 L371.20,145.00 L371.20,144.50 L371.20,144.00 L371.20,143.50 L371.20,143.00 L371.20,142.50 L371.20,142.00 L371.20,141.50 L371.20,141.00 L371.20,140.50 L371.20,140.00 L371.20,139.50 L371.20,139.00 L371.20,138.50 L371.20,138.00 L371.20,137.50 L371.20,137.00 L371.20,136.50 L371.20,136.00 L371.20,135.50 L371.20,135.00 L371.20,134.50 L371.20,134.00 L371.20,133.50 L371.20,133.00 L371.20,132.50 L371.20,132.00 L371.20,131.50 L371.20,131.00 L371.20,130.50 L371.20,130.00 L371.20,129.50 L371.20,129.00 L371.20,128.50 L371.20,128.00 L371.20,127.50 L371.20,127.00 L371.20,126.50 L371.20,126.00 L371.20,125.50 L371.20,125.00 L371.20,124.50 L371.20,124.00 L371.20,123.50 L371.20,123.00 L371.20,122.50 L371.20,122.00 L371.20,121.50 L371.20,121.00 L371.20,120.50 L371.20,120.00 L371.20,119.50 L371.20,119.00 L371.20,118.50 L371.20,118.00 L371.20,117.50 L371.20,117.00 L371.20,116.50 L371.20,116.00 L371.20,115.50 L371.20,115.00 L371.20,114.50 L371.20,114.00 L371.20,113.50 L371.20,113.00 L371.20,112.50 L371.20,112.00 L371.20,111.50 L371.20,111.00 L371.20,110.50 L371.20,110.00 L371.20,109.50 L371.20,109.00 L371.20,108.50 L371.20,108.00 L371.20,107.50 L371.20,107.00 L371.20,106.50 L371.20,106.00 L371.20,105.50 L371.20,105.00 L371.20,104.50 L371.20,104.00 L371.20,103.50 L371.20,103.00 L371.20,102.50 L371.20,102.00 L371.20,101.50 L371.20,101.00 L371.20,100.50 L371.20,100.00 L371.20,99.50 L371.20,99.00 L371.20,98.50 L371.20,98.00 L371.20,97.50 L371.20,97.00 L371.20,96.50 L371.20,96.00 L371.20,95.50 L371.20,95.00 L371.20,94.50 L371.20,94.00 L371.20,93.50 L371.20,93.00 L371.20,92.50 L371.20,92.00 L371.20,91.50 L371.20,91.00 L371.20,90.50 L371.20,90.00 L371.20,89.50 L371.20,89.00 L371.20,88.50 L371.20,88.00 L371.20,87.50 L371.20,87.00 L371.20,86.50 L371.20,86.00 L371.20,85.50 L371.20,85.00 L371.20,84.50 L371.20,84.00 L371.20,83.50 L371.20,83.00 L371.20,82.50 L371.20,82.00 L371.20,81.50 L371.20,81.00 L371.20,80.50 L371.20,80.00 L371.20,79.50 L371.20,79.00 L371.20,78.50 L371.20,78.00 L371.20,77.50 L371.20,77.00 L371.20,76.50 L371.20,76.00 L371.20,75.50 L371.20,75.00 L371.20,74.50 L371.20,74.00 L371.20,73.50 L371.20,73.00 L371.20,72.50 L371.20,72.00 L371.20,71.50 L371.20,71.00 L371.20,70.50 L371.20,70.00 L371.20,69.50 L371.20,69.00 L371.20,68.50 L371.20,68.00 L371.20,67.50 L371.20,67.00 L371.20,66.50 L371.20,66.00 Z" fill="#b37f5d" stroke="#333" stroke-width="1.8" stroke-linejoin="round"/>
<line x1="371.1" y1="66.0" x2="371.1" y2="311.5" stroke="#333" stroke-width="2"/>
<rect x="340.3" y="276.0" width="62.0" height="24.9" fill="#b37f5d"/>
<path d="M371.00,66.00 L371.00,66.50 L371.00,67.00 L371.00,67.50 L371.00,68.00 L371.00,68.50 L371.00,69.00 L371.00,69.50 L371.00,70.00 L371.00,70.50 L371.00,71.00 L371.00,71.50 L371.00,72.00 L371.00,72.50 L371.00,73.00 L371.00,73.50 L371.00,74.00 L371.00,74.50 L371.00,75.00 L371.00,75.50 L371.00,76.00 L371.00,76.50 L371.00,77.00 L371.00,77.50 L371.00,78.00 L371.00,78.50 L371.00,79.00 L371.00,79.50 L371.00,80.00 L371.00,80.50 L371.00,81.00 L371.00,81.50 L371.00,82.00 L371.00,82.50 L371.00,83.00 L371.00,83.50 L371.00,84.00 L371.00,84.50 L371.00,85.00 L371.00,85.50 L371.00,86.00 L371.00,86.50 L371.00,87.00 L371.00,87.50 L371.00,88.00 L371.00,88.50 L371.00,89.00 L371.00,89.50 L371.00,90.00 L371.00,90.50 L371.00,91.00 L371.00,91.50 L371.00,92.00 L371.00,92.50 L371.00,93.00 L371.00,93.50 L371.00,94.00 L371.00,94.50 L371.00,95.00 L371.00,95.50 L371.00,96.00 L371.00,96.50 L371.00,97.00 L371.00,97.50 L371.00,98.00 L371.00,98.50 L371.00,99.00 L371.00,99.50 L371.00,100.00 L371.00,100.50 L371.00,101.00 L371.00,101.50 L371.00,102.00 L371.00,102.50 L371.00,103.00 L371.00,103.50 L371.00,104.00 L371.00,104.50 L371.00,105.00 L371.00,105.50 L371.00,106.00 L371.00,106.50 L371.00,107.00 L371.00,107.50 L371.00,108.00 L371.00,108.50 L371.00,109.00 L371.00,109.50 L371.00,110.00 L371.00,110.50 L371.00,111.00 L371.00,111.50 L371.00,112.00 L371.00,112.50 L371.00,113.00 L371.00,113.50 L371.00,114.00 L371.00,114.50 L371.00,115.00 L371.00,115.50 L371.00,116.00 L371.00,116.50 L371.00,117.00 L371.00,117.50 L371.00,118.00 L371.00,118.50 L371.00,119.00 L371.00,119.50 L371.00,120.00 L371.00,120.50 L371.00,121.00 L371.00,121.50 L371.00,122.00 L371.00,122.50 L371.00,123.00 L371.00,123.50 L371.00,124.00 L371.00,124.50 L371.00,125.00 L371.00,125.50 L371.00,126.00 L371.00,126.50 L371.00,127.00 L371.00,127.50 L371.00,128.00 L371.00,128.50 L371.00,129.00 L371.00,129.50 L371.00,130.00 L371.00,130.50 L371.00,131.00 L371.00,131.50 L371.00,132.00 L371.00,132.50 L371.00,133.00 L371.00,133.50 L371.00,134.00 L371.00,134.50 L371.00,135.00 L371.00,135.50 L371.00,136.00 L371.00,136.50 L371.00,137.00 L371.00,137.50 L371.00,138.00 L371.00,138.50 L371.00,139.00 L371.00,139.50 L371.00,140.00 L371.00,140.50 L371.00,141.00 L371.00,141.50 L371.00,142.00 L371.00,142.50 L371.00,143.00 L371.00,143.50 L371.00,144.00 L371.00,144.50 L371.00,145.00 L371.00,145.50 L371.00,146.00 L371.00,146.50 L371.00,147.00 L371.00,147.50 L371.00,148.00 L371.00,148.50 L371.00,149.00 L371.00,149.50 L371.00,150.00 L371.00,150.50 L371.00,151.00 L371.00,151.50 L371.00,152.00 L371.00,152.50 L371.00,153.00 L371.00,153.50 L371.00,154.00 L371.00,154.50 L371.00,155.00 L371.00,155.50 L371.00,156.00 L371.00,156.50 L371.00,157.00 L371.00,157.50 L371.00,158.00 L371.00,158.50 L371.00,159.00 L371.00,159.50 L371.00,160.00 L371.00,160.50 L371.00,161.00 L371.00,161.50 L371.00,162.00 L371.00,162.50 L371.00,163.00 L371.00,163.50 L371.00,164.00 L371.00,164.50 L371.00,165.00 L371.00,165.50 L371.00,166.00 L371.00,166.50 L371.00,167.00 L371.00,167.50 L371.00,168.00 L371.00,168.50 L371.00,169.00 L371.00,169.50 L371.00,170.00 L371.00,170.50 L371.00,171.00 L371.00,171.50 L371.00,172.00 L371.00,172.50 L371.00,173.00 L371.00,173.50 L371.00,174.00 L371.00,174.50 L371.00,175.00 L371.00,175.50 L371.00,176.00 L371.00,176.50 L371.00,177.00 L371.00,177.50 L371.00,178.00 L371.00,178.50 L371.00,179.00 L371.00,179.50 L371.00,180.00 L371.00,180.50 L371.00,181.00 L371.00,181.50 L371.00,182.00 L371.00,182.50 L371.00,183.00 L371.00,183.50 L370.99,184.00 L370.99,184.50 L370.99,185.00 L370.99,185.50 L370.99,186.00 L370.99,186.50 L370.98,187.00 L370.98,187.50 L370.98,188.00 L370.98,188.50 L370.97,189.00 L370.97,189.50 L370.97,190.00 L370.96,190.50 L370.96,191.00 L370.96,191.50 L370.95,192.00 L370.95,192.50 L370.95,193.00 L370.94,193.50 L370.94,194.00 L370.93,194.50 L370.93,195.00 L370.92,195.50 L370.92,196.00 L370.91,196.50 L370.91,197.00 L370.90,197.50 L370.89,198.00 L370.89,198.50 L370.88,199.00 L370.87,199.50 L370.87,200.00 L370.86,200.50 L370.85,201.00 L370.85,201.50 L370.84,202.00 L370.83,202.50 L370.82,203.00 L370.82,203.50 L370.81,204.00 L370.80,204.50 L370.79,205.00 L370.78,205.50 L370.77,206.00 L370.77,206.50 L370.76,207.00 L370.75,207.50 L370.74,208.00 L370.73,208.50 L370.72,209.00 L370.71,209.50 L370.70,210.00 L370.69,210.50 L370.68,211.00 L370.67,211.50 L370.65,212.00 L370.64,212.50 L370.63,213.00 L370.62,213.50 L370.61,214.00 L370.60,214.50 L370.58,215.00 L370.57,215.50 L370.56,216.00 L370.55,216.50 L370.53,217.00 L370.52,217.50 L370.51,218.00 L370.49,218.50 L370.48,219.00 L370.47,219.50 L370.45,220.00 L370.44,220.50 L370.42,221.00 L370.41,221.50 L370.39,222.00 L370.38,222.50 L370.36,223.00 L370.35,223.50 L370.33,224.00 L370.32,224.50 L370.30,225.00 L370.28,225.50 L370.26,226.00 L370.22,226.50 L370.19,227.00 L370.15,227.50 L370.10,228.00 L370.05,228.50 L369.99,229.00 L369.93,229.50 L369.87,230.00 L369.80,230.50 L369.74,231.00 L369.66,231.50 L369.59,232.00 L369.51,232.50 L369.43,233.00 L369.35,233.50 L369.27,234.00 L369.19,234.50 L369.10,235.00 L369.02,235.50 L368.93,236.00 L368.85,236.50 L368.76,237.00 L368.68,237.50 L368.60,238.00 L368.52,238.50 L368.43,239.00 L368.35,239.50 L368.27,240.00 L368.18,240.50 L368.09,241.00 L368.00,241.50 L367.90,242.00 L367.81,242.50 L367.71,243.00 L367.61,243.50 L367.51,244.00 L367.40,244.50 L367.30,245.00 L367.19,245.50 L367.08,246.00 L366.96,246.50 L366.85,247.00 L366.73,247.50 L366.61,248.00 L366.49,248.50 L366.37,249.00 L366.25,249.50 L366.12,250.00 L365.99,250.50 L365.85,251.00 L365.71,251.50 L365.56,252.00 L365.41,252.50 L365.24,253.00 L365.07,253.50 L364.89,254.00 L364.70,254.50 L364.49,255.00 L364.27,255.50 L364.02,256.00 L363.76,256.50 L363.48,257.00 L363.19,257.50 L362.87,258.00 L362.54,258.50 L362.20,259.00 L361.85,259.50 L361.47,260.00 L361.05,260.50 L360.59,261.00 L360.09,261.50 L359.57,262.00 L359.03,262.50 L358.48,263.00 L357.92,263.50 L357.37,264.00 L356.83,264.50 L356.30,265.00 L355.77,265.50 L355.23,266.00 L354.66,266.50 L354.10,267.00 L353.54,267.50 L352.99,268.00 L352.46,268.50 L351.95,269.00 L351.48,269.50 L351.06,270.00 L350.67,270.50 L350.32,271.00 L349.97,271.50 L349.65,272.00 L349.34,272.50 L349.04,273.00 L348.76,273.50 L348.48,274.00 L348.22,274.50 L347.96,275.00 L347.70,275.50 L347.45,276.00 L347.22,276.50 L347.00,277.00 L346.79,277.50 L346.59,278.00 L346.39,278.50 L346.20,279.00 L346.00,279.50 L345.80,280.00 L345.60,280.50 L345.38,281.00 L345.15,281.50 L344.91,282.00 L344.65,282.50 L344.38,283.00 L344.10,283.50 L343.81,284.00 L343.51,284.50 L343.18,285.00 L342.84,285.50 L342.46,286.00 L342.05,286.50 L341.59,287.00 L341.07,287.50 L340.40,288.00 L339.62,288.50 L338.78,289.00 L337.92,289.50 L337.10,290.00 L336.30,290.50 L335.46,291.00 L334.60,291.50 L333.73,292.00 L332.87,292.50 L332.03,293.00 L331.23,293.50 L330.47,294.00 L329.78,294.50 L329.15,295.00 L328.51,295.50 L327.84,296.00 L327.19,296.50 L326.56,297.00 L325.98,297.50 L325.49,298.00 L325.09,298.50 L324.82,299.00 L324.70,299.50 L324.71,300.00 L324.76,300.50 L324.84,301.00 L324.95,301.50 L325.08,302.00 L325.25,302.50 L325.43,303.00 L325.65,303.50 L326.12,304.00 L326.89,304.50 L327.93,305.00 L329.18,305.50 L330.57,306.00 L332.06,306.50 L333.59,307.00 L335.18,307.50 L337.07,308.00 L339.24,308.50 L341.59,309.00 L344.07,309.50 L346.60,310.00 L349.32,310.50 L352.26,311.00 L355.20,311.50 L387.00,311.50 L389.94,311.00 L392.88,310.50 L395.60,310.00 L398.13,309.50 L400.61,309.00 L402.96,308.50 L405.13,308.00 L407.02,307.50 L408.61,307.00 L410.14,306.50 L411.63,306.00 L413.02,305.50 L414.27,305.00 L415.31,304.50 L416.08,304.00 L416.55,303.50 L416.77,303.00 L416.95,302.50 L417.12,302.00 L417.25,301.50 L417.36,301.00 L417.44,300.50 L417.49,300.00 L417.50,299.50 L417.38,299.00 L417.11,298.50 L416.71,298.00 L416.22,297.50 L415.64,297.00 L415.01,296.50 L414.36,296.00 L413.69,295.50 L413.05,295.00 L412.42,294.50 L411.73,294.00 L410.97,293.50 L410.17,293.00 L409.33,292.50 L408.47,292.00 L407.60,291.50 L406.74,291.00 L405.90,290.50 L405.10,290.00 L404.28,289.50 L403.42,289.00 L402.58,288.50 L401.80,288.00 L401.13,287.50 L400.61,287.00 L400.15,286.50 L399.74,286.00 L399.36,285.50 L399.02,285.00 L398.69,284.50 L398.39,284.00 L398.10,283.50 L397.82,283.00 L397.55,282.50 L397.29,282.00 L397.05,281.50 L396.82,281.00 L396.60,280.50 L396.40,280.00 L396.20,279.50 L396.00,279.00 L395.81,278.50 L395.61,278.00 L395.41,277.50 L395.20,277.00 L394.98,276.50 L394.75,276.00 L394.50,275.50 L394.24,275.00 L393.98,274.50 L393.72,274.00 L393.44,273.50 L393.16,273.00 L392.86,272.50 L392.55,272.00 L392.23,271.50 L391.88,271.00 L391.53,270.50 L391.14,270.00 L390.72,269.50 L390.25,269.00 L389.74,268.50 L389.21,268.00 L388.66,267.50 L388.10,267.00 L387.54,266.50 L386.97,266.00 L386.43,265.50 L385.90,265.00 L385.37,264.50 L384.83,264.00 L384.28,263.50 L383.72,263.00 L383.17,262.50 L382.63,262.00 L382.11,261.50 L381.61,261.00 L381.15,260.50 L380.73,260.00 L380.35,259.50 L380.00,259.00 L379.66,258.50 L379.33,258.00 L379.01,257.50 L378.72,257.00 L378.44,256.50 L378.18,256.00 L377.93,255.50 L377.71,255.00 L377.50,254.50 L377.31,254.00 L377.13,253.50 L376.96,253.00 L376.79,252.50 L376.64,252.00 L376.49,251.50 L376.35,251.00 L376.21,250.50 L376.08,250.00 L375.95,249.50 L375.83,249.00 L375.71,248.50 L375.59,248.00 L375.47,247.50 L375.35,247.00 L375.24,246.50 L375.12,246.00 L375.01,245.50 L374.90,245.00 L374.80,244.50 L374.69,244.00 L374.59,243.50 L374.49,243.00 L374.39,242.50 L374.30,242.00 L374.20,241.50 L374.11,241.00 L374.02,240.50 L373.93,240.00 L373.85,239.50 L373.77,239.00 L373.68,238.50 L373.60,238.00 L373.52,237.50 L373.44,237.00 L373.35,236.50 L373.27,236.00 L373.18,235.50 L373.10,235.00 L373.01,234.50 L372.93,234.00 L372.85,233.50 L372.77,233.00 L372.69,232.50 L372.61,232.00 L372.54,231.50 L372.46,231.00 L372.40,230.50 L372.33,230.00 L372.27,229.50 L372.21,229.00 L372.15,228.50 L372.10,228.00 L372.05,227.50 L372.01,227.00 L371.98,226.50 L371.94,226.00 L371.92,225.50 L371.90,225.00 L371.88,224.50 L371.87,224.00 L371.85,223.50 L371.84,223.00 L371.82,222.50 L371.81,222.00 L371.79,221.50 L371.78,221.00 L371.76,220.50 L371.75,220.00 L371.73,219.50 L371.72,219.00 L371.71,218.50 L371.69,218.00 L371.68,217.50 L371.67,217.00 L371.65,216.50 L371.64,216.00 L371.63,215.50 L371.62,215.00 L371.60,214.50 L371.59,214.00 L371.58,213.50 L371.57,213.00 L371.56,212.50 L371.55,212.00 L371.53,211.50 L371.52,211.00 L371.51,210.50 L371.50,210.00 L371.49,209.50 L371.48,209.00 L371.47,208.50 L371.46,208.00 L371.45,207.50 L371.44,207.00 L371.43,206.50 L371.43,206.00 L371.42,205.50 L371.41,205.00 L371.40,204.50 L371.39,204.00 L371.38,203.50 L371.38,203.00 L371.37,202.50 L371.36,202.00 L371.35,201.50 L371.35,201.00 L371.34,200.50 L371.33,200.00 L371.33,199.50 L371.32,199.00 L371.31,198.50 L371.31,198.00 L371.30,197.50 L371.29,197.00 L371.29,196.50 L371.28,196.00 L371.28,195.50 L371.27,195.00 L371.27,194.50 L371.26,194.00 L371.26,193.50 L371.25,193.00 L371.25,192.50 L371.25,192.00 L371.24,191.50 L371.24,191.00 L371.24,190.50 L371.23,190.00 L371.23,189.50 L371.23,189.00 L371.22,188.50 L371.22,188.00 L371.22,187.50 L371.22,187.00 L371.21,186.50 L371.21,186.00 L371.21,185.50 L371.21,185.00 L371.21,184.50 L371.21,184.00 L371.20,183.50 L371.20,183.00 L371.20,182.50 L371.20,182.00 L371.20,181.50 L371.20,181.00 L371.20,180.50 L371.20,180.00 L371.20,179.50 L371.20,179.00 L371.20,178.50 L371.20,178.00 L371.20,177.50 L371.20,177.00 L371.20,176.50 L371.20,176.00 L371.20,175.50 L371.20,175.00 L371.20,174.50 L371.20,174.00 L371.20,173.50 L371.20,173.00 L371.20,172.50 L371.20,172.00 L371.20,171.50 L371.20,171.00 L371.20,170.50 L371.20,170.00 L371.20,169.50 L371.20,169.00 L371.20,168.50 L371.20,168.00 L371.20,167.50 L371.20,167.00 L371.20,166.50 L371.20,166.00 L371.20,165.50 L371.20,165.00 L371.20,164.50 L371.20,164.00 L371.20,163.50 L371.20,163.00 L371.20,162.50 L371.20,162.00 L371.20,161.50 L371.20,161.00 L371.20,160.50 L371.20,160.00 L371.20,159.50 L371.20,159.00 L371.20,158.50 L371.20,158.00 L371.20,157.50 L371.20,157.00 L371.20,156.50 L371.20,156.00 L371.20,155.50 L371.20,155.00 L371.20,154.50 L371.20,154.00 L371.20,153.50 L371.20,153.00 L371.20,152.50 L371.20,152.00 L371.20,151.50 L371.20,151.00 L371.20,150.50 L371.20,150.00 L371.20,149.50 L371.20,149.00 L371.20,148.50 L371.20,148.00 L371.20,147.50 L371.20,147.00 L371.20,146.50 L371.20,146.00 L371.20,145.50 L371.20,145.00 L371.20,144.50 L371.20,144.00 L371.20,143.50 L371.20,143.00 L371.20,142.50 L371.20,142.00 L371.20,141.50 L371.20,141.00 L371.20,140.50 L371.20,140.00 L371.20,139.50 L371.20,139.00 L371.20,138.50 L371.20,138.00 L371.20,137.50 L371.20,137.00 L371.20,136.50 L371.20,136.00 L371.20,135.50 L371.20,135.00 L371.20,134.50 L371.20,134.00 L371.20,133.50 L371.20,133.00 L371.20,132.50 L371.20,132.00 L371.20,131.50 L371.20,131.00 L371.20,130.50 L371.20,130.00 L371.20,129.50 L371.20,129.00 L371.20,128.50 L371.20,128.00 L371.20,127.50 L371.20,127.00 L371.20,126.50 L371.20,126.00 L371.20,125.50 L371.20,125.00 L371.20,124.50 L371.20,124.00 L371.20,123.50 L371.20,123.00 L371.20,122.50 L371.20,122.00 L371.20,121.50 L371.20,121.00 L371.20,120.50 L371.20,120.00 L371.20,119.50 L371.20,119.00 L371.20,118.50 L371.20,118.00 L371.20,117.50 L371.20,117.00 L371.20,116.50 L371.20,116.00 L371.20,115.50 L371.20,115.00 L371.20,114.50 L371.20,114.00 L371.20,113.50 L371.20,113.00 L371.20,112.50 L371.20,112.00 L371.20,111.50 L371.20,111.00 L371.20,110.50 L371.20,110.00 L371.20,109.50 L371.20,109.00 L371.20,108.50 L371.20,108.00 L371.20,107.50 L371.20,107.00 L371.20,106.50 L371.20,106.00 L371.20,105.50 L371.20,105.00 L371.20,104.50 L371.20,104.00 L371.20,103.50 L371.20,103.00 L371.20,102.50 L371.20,102.00 L371.20,101.50 L371.20,101.00 L371.20,100.50 L371.20,100.00 L371.20,99.50 L371.20,99.00 L371.20,98.50 L371.20,98.00 L371.20,97.50 L371.20,97.00 L371.20,96.50 L371.20,96.00 L371.20,95.50 L371.20,95.00 L371.20,94.50 L371.20,94.00 L371.20,93.50 L371.20,93.00 L371.20,92.50 L371.20,92.00 L371.20,91.50 L371.20,91.00 L371.20,90.50 L371.20,90.00 L371.20,89.50 L371.20,89.00 L371.20,88.50 L371.20,88.00 L371.20,87.50 L371.20,87.00 L371.20,86.50 L371.20,86.00 L371.20,85.50 L371.20,85.00 L371.20,84.50 L371.20,84.00 L371.20,83.50 L371.20,83.00 L371.20,82.50 L371.20,82.00 L371.20,81.50 L371.20,81.00 L371.20,80.50 L371.20,80.00 L371.20,79.50 L371.20,79.00 L371.20,78.50 L371.20,78.00 L371.20,77.50 L371.20,77.00 L371.20,76.50 L371.20,76.00 L371.20,75.50 L371.20,75.00 L371.20,74.50 L371.20,74.00 L371.20,73.50 L371.20,73.00 L371.20,72.50 L371.20,72.00 L371.20,71.50 L371.20,71.00 L371.20,70.50 L371.20,70.00 L371.20,69.50 L371.20,69.00 L371.20,68.50 L371.20,68.00 L371.20,67.50 L371.20,67.00 L371.20,66.50 L371.20,66.00 Z" fill="none" stroke="#333" stroke-width="1.8" stroke-linejoin="round"/>
<rect x="340.3" y="276.0" width="62.0" height="24.9" fill="none" stroke="#333" stroke-width="1.8"/>
<line x1="340.3" y1="291.2" x2="402.3" y2="291.2" stroke="#333" stroke-width="3.5"/>
<circle cx="371.1" cy="77.7" r="2.95" fill="#333"/>
<circle cx="371.1" cy="122.4" r="2.95" fill="#333"/>
<circle cx="371.1" cy="141.5" r="2.95" fill="#333"/>
<circle cx="371.1" cy="159.6" r="2.95" fill="#333"/>
<circle cx="371.1" cy="167.6" r="2.95" fill="#333"/>
<circle cx="371.1" cy="182.1" r="2.95" fill="#333"/>
<circle cx="371.1" cy="189.4" r="2.95" fill="#333"/>
<circle cx="371.1" cy="193.0" r="2.95" fill="#333"/>
<line x1="371.1" y1="195.4" x2="371.1" y2="237.8" stroke="#333" stroke-width="5.6" stroke-linecap="round"/>
<line x1="355.7" y1="238.6" x2="386.5" y2="238.6" stroke="#111" stroke-width="2"/>
<path d="M525.00,138.70 L525.00,139.20 L525.00,139.70 L525.00,140.20 L525.00,140.70 L525.00,141.20 L525.00,141.70 L525.00,142.20 L525.00,142.70 L525.00,143.20 L525.00,143.70 L525.00,144.20 L525.00,144.70 L525.00,145.20 L525.00,145.70 L525.00,146.20 L525.00,146.70 L525.00,147.20 L525.00,147.70 L525.00,148.20 L525.00,148.70 L525.00,149.20 L525.00,149.70 L525.00,150.20 L525.00,150.70 L525.00,151.20 L525.00,151.70 L525.00,152.20 L525.00,152.70 L525.00,153.20 L525.00,153.70 L525.00,154.20 L525.00,154.70 L525.00,155.20 L525.00,155.70 L525.00,156.20 L525.00,156.70 L525.00,157.20 L525.00,157.70 L525.00,158.20 L525.00,158.70 L525.00,159.20 L525.00,159.70 L525.00,160.20 L525.00,160.70 L525.00,161.20 L525.00,161.70 L525.00,162.20 L525.00,162.70 L525.00,163.20 L525.00,163.70 L525.00,164.20 L525.00,164.70 L525.00,165.20 L525.00,165.70 L525.00,166.20 L525.00,166.70 L525.00,167.20 L525.00,167.70 L525.00,168.20 L525.00,168.70 L525.00,169.20 L525.00,169.70 L525.00,170.20 L525.00,170.70 L525.00,171.20 L525.00,171.70 L525.00,172.20 L525.00,172.70 L525.00,173.20 L525.00,173.70 L525.00,174.20 L525.00,174.70 L525.00,175.20 L525.00,175.70 L525.00,176.20 L525.00,176.70 L525.00,177.20 L525.00,177.70 L525.00,178.20 L525.00,178.70 L525.00,179.20 L525.00,179.70 L525.00,180.20 L525.00,180.70 L525.00,181.20 L525.00,181.70 L525.00,182.20 L525.00,182.70 L525.00,183.20 L525.00,183.70 L525.00,184.20 L525.00,184.70 L525.00,185.20 L525.00,185.70 L525.00,186.20 L525.00,186.70 L525.00,187.20 L525.00,187.70 L525.00,188.20 L525.00,188.70 L525.00,189.20 L525.00,189.70 L525.00,190.20 L525.00,190.70 L525.00,191.20 L525.00,191.70 L525.00,192.20 L525.00,192.70 L525.00,193.20 L525.00,193.70 L525.00,194.20 L525.00,194.70 L525.00,195.20 L525.00,195.70 L525.00,196.20 L525.00,196.70 L525.00,197.20 L524.99,197.70 L524.99,198.20 L524.99,198.70 L524.98,199.20 L524.98,199.70 L524.98,200.20 L524.97,200.70 L524.97,201.20 L524.96,201.70 L524.95,202.20 L524.95,202.70 L524.94,203.20 L524.93,203.70 L524.93,204.20 L524.92,204.70 L524.91,205.20 L524.90,205.70 L524.89,206.20 L524.88,206.70 L524.87,207.20 L524.86,207.70 L524.85,208.20 L524.84,208.70 L524.83,209.20 L524.82,209.70 L524.81,210.20 L524.79,210.70 L524.78,211.20 L524.77,211.70 L524.75,212.20 L524.74,212.70 L524.73,213.20 L524.71,213.70 L524.70,214.20 L524.68,214.70 L524.67,215.20 L524.65,215.70 L524.63,216.20 L524.62,216.70 L524.60,217.20 L524.58,217.70 L524.57,218.20 L524.55,218.70 L524.53,219.20 L524.51,219.70 L524.49,220.20 L524.47,220.70 L524.46,221.20 L524.44,221.70 L524.42,222.20 L524.40,222.70 L524.38,223.20 L524.36,223.70 L524.33,224.20 L524.31,224.70 L524.29,225.20 L524.27,225.70 L524.23,226.20 L524.20,226.70 L524.16,227.20 L524.12,227.70 L524.07,228.20 L524.02,228.70 L523.96,229.20 L523.91,229.70 L523.85,230.20 L523.78,230.70 L523.72,231.20 L523.65,231.70 L523.58,232.20 L523.51,232.70 L523.43,233.20 L523.36,233.70 L523.28,234.20 L523.21,234.70 L523.13,235.20 L523.05,235.70 L522.97,236.20 L522.89,236.70 L522.82,237.20 L522.74,237.70 L522.66,238.20 L522.58,238.70 L522.51,239.20 L522.43,239.70 L522.35,240.20 L522.27,240.70 L522.19,241.20 L522.11,241.70 L522.02,242.20 L521.93,242.70 L521.84,243.20 L521.75,243.70 L521.65,244.20 L521.55,244.70 L521.45,245.20 L521.34,245.70 L521.23,246.20 L521.12,246.70 L521.00,247.20 L520.87,247.70 L520.74,248.20 L520.60,248.70 L520.45,249.20 L520.29,249.70 L520.13,250.20 L519.96,250.70 L519.79,251.20 L519.60,251.70 L519.42,252.20 L519.23,252.70 L519.03,253.20 L518.83,253.70 L518.62,254.20 L518.42,254.70 L518.20,255.20 L517.99,255.70 L517.76,256.20 L517.52,256.70 L517.28,257.20 L517.02,257.70 L516.74,258.20 L516.45,258.70 L516.13,259.20 L515.80,259.70 L515.42,260.20 L514.98,260.70 L514.49,261.20 L513.96,261.70 L513.40,262.20 L512.83,262.70 L512.25,263.20 L511.68,263.70 L511.12,264.20 L510.60,264.70 L510.11,265.20 L509.62,265.70 L509.14,266.20 L508.66,266.70 L508.18,267.20 L507.72,267.70 L507.26,268.20 L506.82,268.70 L506.39,269.20 L505.99,269.70 L505.60,270.20 L505.23,270.70 L504.87,271.20 L504.52,271.70 L504.18,272.20 L503.84,272.70 L503.52,273.20 L503.20,273.70 L502.90,274.20 L502.59,274.70 L502.30,275.20 L502.02,275.70 L501.74,276.20 L501.47,276.70 L501.20,277.20 L500.94,277.70 L500.70,278.20 L500.46,278.70 L500.22,279.20 L500.00,279.70 L499.78,280.20 L499.56,280.70 L499.34,281.20 L499.13,281.70 L498.92,282.20 L498.70,282.70 L498.49,283.20 L498.27,283.70 L498.08,284.20 L497.91,284.70 L497.74,285.20 L497.58,285.70 L497.42,286.20 L497.24,286.70 L497.04,287.20 L496.82,287.70 L496.57,288.20 L496.27,288.70 L495.92,289.20 L495.38,289.70 L494.63,290.20 L493.72,290.70 L492.72,291.20 L491.69,291.70 L490.68,292.20 L489.72,292.70 L488.67,293.20 L487.56,293.70 L486.43,294.20 L485.33,294.70 L484.29,295.20 L483.37,295.70 L482.60,296.20 L481.91,296.70 L481.22,297.20 L480.54,297.70 L479.90,298.20 L479.34,298.70 L478.87,299.20 L478.53,299.70 L478.33,300.20 L478.31,300.70 L478.41,301.20 L478.61,301.70 L478.89,302.20 L479.23,302.70 L479.63,303.20 L480.15,303.70 L481.11,304.20 L482.43,304.70 L484.02,305.20 L485.77,305.70 L487.56,306.20 L489.30,306.70 L491.04,307.20 L492.91,307.70 L494.89,308.20 L496.95,308.70 L499.07,309.20 L501.24,309.70 L503.53,310.20 L505.93,310.70 L508.36,311.20 L509.80,311.50 L540.40,311.50 L541.84,311.20 L544.27,310.70 L546.67,310.20 L548.96,309.70 L551.13,309.20 L553.25,308.70 L555.31,308.20 L557.29,307.70 L559.16,307.20 L560.90,306.70 L562.64,306.20 L564.43,305.70 L566.18,305.20 L567.77,304.70 L569.09,304.20 L570.05,303.70 L570.57,303.20 L570.97,302.70 L571.31,302.20 L571.59,301.70 L571.79,301.20 L571.89,300.70 L571.87,300.20 L571.67,299.70 L571.33,299.20 L570.86,298.70 L570.30,298.20 L569.66,297.70 L568.98,297.20 L568.29,296.70 L567.60,296.20 L566.83,295.70 L565.91,295.20 L564.87,294.70 L563.77,294.20 L562.64,293.70 L561.53,293.20 L560.48,292.70 L559.52,292.20 L558.51,291.70 L557.48,291.20 L556.48,290.70 L555.57,290.20 L554.82,289.70 L554.28,289.20 L553.93,288.70 L553.63,288.20 L553.38,287.70 L553.16,287.20 L552.96,286.70 L552.78,286.20 L552.62,285.70 L552.46,285.20 L552.29,284.70 L552.12,284.20 L551.93,283.70 L551.71,283.20 L551.50,282.70 L551.28,282.20 L551.07,281.70 L550.86,281.20 L550.64,280.70 L550.42,280.20 L550.20,279.70 L549.98,279.20 L549.74,278.70 L549.50,278.20 L549.26,277.70 L549.00,277.20 L548.73,276.70 L548.46,276.20 L548.18,275.70 L547.90,275.20 L547.61,274.70 L547.30,274.20 L547.00,273.70 L546.68,273.20 L546.36,272.70 L546.02,272.20 L545.68,271.70 L545.33,271.20 L544.97,270.70 L544.60,270.20 L544.21,269.70 L543.81,269.20 L543.38,268.70 L542.94,268.20 L542.48,267.70 L542.02,267.20 L541.54,266.70 L541.06,266.20 L540.58,265.70 L540.09,265.20 L539.60,264.70 L539.08,264.20 L538.52,263.70 L537.95,263.20 L537.37,262.70 L536.80,262.20 L536.24,261.70 L535.71,261.20 L535.22,260.70 L534.78,260.20 L534.40,259.70 L534.07,259.20 L533.75,258.70 L533.46,258.20 L533.18,257.70 L532.92,257.20 L532.68,256.70 L532.44,256.20 L532.21,255.70 L532.00,255.20 L531.78,254.70 L531.58,254.20 L531.37,253.70 L531.17,253.20 L530.97,252.70 L530.78,252.20 L530.60,251.70 L530.41,251.20 L530.24,250.70 L530.07,250.20 L529.91,249.70 L529.75,249.20 L529.60,248.70 L529.46,248.20 L529.33,247.70 L529.20,247.20 L529.08,246.70 L528.97,246.20 L528.86,245.70 L528.75,245.20 L528.65,244.70 L528.55,244.20 L528.45,243.70 L528.36,243.20 L528.27,242.70 L528.18,242.20 L528.09,241.70 L528.01,241.20 L527.93,240.70 L527.85,240.20 L527.77,239.70 L527.69,239.20 L527.62,238.70 L527.54,238.20 L527.46,237.70 L527.38,237.20 L527.31,236.70 L527.23,236.20 L527.15,235.70 L527.07,235.20 L526.99,234.70 L526.92,234.20 L526.84,233.70 L526.77,233.20 L526.69,232.70 L526.62,232.20 L526.55,231.70 L526.48,231.20 L526.42,230.70 L526.35,230.20 L526.29,229.70 L526.24,229.20 L526.18,228.70 L526.13,228.20 L526.08,227.70 L526.04,227.20 L526.00,226.70 L525.97,226.20 L525.93,225.70 L525.91,225.20 L525.89,224.70 L525.87,224.20 L525.84,223.70 L525.82,223.20 L525.80,222.70 L525.78,222.20 L525.76,221.70 L525.74,221.20 L525.73,220.70 L525.71,220.20 L525.69,219.70 L525.67,219.20 L525.65,218.70 L525.63,218.20 L525.62,217.70 L525.60,217.20 L525.58,216.70 L525.57,216.20 L525.55,215.70 L525.53,215.20 L525.52,214.70 L525.50,214.20 L525.49,213.70 L525.47,213.20 L525.46,212.70 L525.45,212.20 L525.43,211.70 L525.42,211.20 L525.41,210.70 L525.39,210.20 L525.38,209.70 L525.37,209.20 L525.36,208.70 L525.35,208.20 L525.34,207.70 L525.33,207.20 L525.32,206.70 L525.31,206.20 L525.30,205.70 L525.29,205.20 L525.28,204.70 L525.27,204.20 L525.27,203.70 L525.26,203.20 L525.25,202.70 L525.25,202.20 L525.24,201.70 L525.23,201.20 L525.23,200.70 L525.22,200.20 L525.22,199.70 L525.22,199.20 L525.21,198.70 L525.21,198.20 L525.21,197.70 L525.20,197.20 L525.20,196.70 L525.20,196.20 L525.20,195.70 L525.20,195.20 L525.20,194.70 L525.20,194.20 L525.20,193.70 L525.20,193.20 L525.20,192.70 L525.20,192.20 L525.20,191.70 L525.20,191.20 L525.20,190.70 L525.20,190.20 L525.20,189.70 L525.20,189.20 L525.20,188.70 L525.20,188.20 L525.20,187.70 L525.20,187.20 L525.20,186.70 L525.20,186.20 L525.20,185.70 L525.20,185.20 L525.20,184.70 L525.20,184.20 L525.20,183.70 L525.20,183.20 L525.20,182.70 L525.20,182.20 L525.20,181.70 L525.20,181.20 L525.20,180.70 L525.20,180.20 L525.20,179.70 L525.20,179.20 L525.20,178.70 L525.20,178.20 L525.20,177.70 L525.20,177.20 L525.20,176.70 L525.20,176.20 L525.20,175.70 L525.20,175.20 L525.20,174.70 L525.20,174.20 L525.20,173.70 L525.20,173.20 L525.20,172.70 L525.20,172.20 L525.20,171.70 L525.20,171.20 L525.20,170.70 L525.20,170.20 L525.20,169.70 L525.20,169.20 L525.20,168.70 L525.20,168.20 L525.20,167.70 L525.20,167.20 L525.20,166.70 L525.20,166.20 L525.20,165.70 L525.20,165.20 L525.20,164.70 L525.20,164.20 L525.20,163.70 L525.20,163.20 L525.20,162.70 L525.20,162.20 L525.20,161.70 L525.20,161.20 L525.20,160.70 L525.20,160.20 L525.20,159.70 L525.20,159.20 L525.20,158.70 L525.20,158.20 L525.20,157.70 L525.20,157.20 L525.20,156.70 L525.20,156.20 L525.20,155.70 L525.20,155.20 L525.20,154.70 L525.20,154.20 L525.20,153.70 L525.20,153.20 L525.20,152.70 L525.20,152.20 L525.20,151.70 L525.20,151.20 L525.20,150.70 L525.20,150.20 L525.20,149.70 L525.20,149.20 L525.20,148.70 L525.20,148.20 L525.20,147.70 L525.20,147.20 L525.20,146.70 L525.20,146.20 L525.20,145.70 L525.20,145.20 L525.20,144.70 L525.20,144.20 L525.20,143.70 L525.20,143.20 L525.20,142.70 L525.20,142.20 L525.20,141.70 L525.20,141.20 L525.20,140.70 L525.20,140.20 L525.20,139.70 L525.20,139.20 L525.20,138.70 Z" fill="#666666" stroke="#333" stroke-width="1.8" stroke-linejoin="round"/>
<line x1="525.1" y1="138.7" x2="525.1" y2="311.5" stroke="#333" stroke-width="2"/>
<rect x="494.2" y="275.6" width="62.1" height="25.6" fill="#666666"/>
<path d="M525.00,138.70 L525.00,139.20 L525.00,139.70 L525.00,140.20 L525.00,140.70 L525.00,141.20 L525.00,141.70 L525.00,142.20 L525.00,142.70 L525.00,143.20 L525.00,143.70 L525.00,144.20 L525.00,144.70 L525.00,145.20 L525.00,145.70 L525.00,146.20 L525.00,146.70 L525.00,147.20 L525.00,147.70 L525.00,148.20 L525.00,148.70 L525.00,149.20 L525.00,149.70 L525.00,150.20 L525.00,150.70 L525.00,151.20 L525.00,151.70 L525.00,152.20 L525.00,152.70 L525.00,153.20 L525.00,153.70 L525.00,154.20 L525.00,154.70 L525.00,155.20 L525.00,155.70 L525.00,156.20 L525.00,156.70 L525.00,157.20 L525.00,157.70 L525.00,158.20 L525.00,158.70 L525.00,159.20 L525.00,159.70 L525.00,160.20 L525.00,160.70 L525.00,161.20 L525.00,161.70 L525.00,162.20 L525.00,162.70 L525.00,163.20 L525.00,163.70 L525.00,164.20 L525.00,164.70 L525.00,165.20 L525.00,165.70 L525.00,166.20 L525.00,166.70 L525.00,167.20 L525.00,167.70 L525.00,168.20 L525.00,168.70 L525.00,169.20 L525.00,169.70 L525.00,170.20 L525.00,170.70 L525.00,171.20 L525.00,171.70 L525.00,172.20 L525.00,172.70 L525.00,173.20 L525.00,173.70 L525.00,174.20 L525.00,174.70 L525.00,175.20 L525.00,175.70 L525.00,176.20 L525.00,176.70 L525.00,177.20 L525.00,177.70 L525.00,178.20 L525.00,178.70 L525.00,179.20 L525.00,179.70 L525.00,180.20 L525.00,180.70 L525.00,181.20 L525.00,181.70 L525.00,182.20 L525.00,182.70 L525.00,183.20 L525.00,183.70 L525.00,184.20 L525.00,184.70 L525.00,185.20 L525.00,185.70 L525.00,186.20 L525.00,186.70 L525.00,187.20 L525.00,187.70 L525.00,188.20 L525.00,188.70 L525.00,189.20 L525.00,189.70 L525.00,190.20 L525.00,190.70 L525.00,191.20 L525.00,191.70 L525.00,192.20 L525.00,192.70 L525.00,193.20 L525.00,193.70 L525.00,194.20 L525.00,194.70 L525.00,195.20 L525.00,195.70 L525.00,196.20 L525.00,196.70 L525.00,197.20 L524.99,197.70 L524.99,198.20 L524.99,198.70 L524.98,199.20 L524.98,199.70 L524.98,200.20 L524.97,200.70 L524.97,201.20 L524.96,201.70 L524.95,202.20 L524.95,202.70 L524.94,203.20 L524.93,203.70 L524.93,204.20 L524.92,204.70 L524.91,205.20 L524.90,205.70 L524.89,206.20 L524.88,206.70 L524.87,207.20 L524.86,207.70 L524.85,208.20 L524.84,208.70 L524.83,209.20 L524.82,209.70 L524.81,210.20 L524.79,210.70 L524.78,211.20 L524.77,211.70 L524.75,212.20 L524.74,212.70 L524.73,213.20 L524.71,213.70 L524.70,214.20 L524.68,214.70 L524.67,215.20 L524.65,215.70 L524.63,216.20 L524.62,216.70 L524.60,217.20 L524.58,217.70 L524.57,218.20 L524.55,218.70 L524.53,219.20 L524.51,219.70 L524.49,220.20 L524.47,220.70 L524.46,221.20 L524.44,221.70 L524.42,222.20 L524.40,222.70 L524.38,223.20 L524.36,223.70 L524.33,224.20 L524.31,224.70 L524.29,225.20 L524.27,225.70 L524.23,226.20 L524.20,226.70 L524.16,227.20 L524.12,227.70 L524.07,228.20 L524.02,228.70 L523.96,229.20 L523.91,229.70 L523.85,230.20 L523.78,230.70 L523.72,231.20 L523.65,231.70 L523.58,232.20 L523.51,232.70 L523.43,233.20 L523.36,233.70 L523.28,234.20 L523.21,234.70 L523.13,235.20 L523.05,235.70 L522.97,236.20 L522.89,236.70 L522.82,237.20 L522.74,237.70 L522.66,238.20 L522.58,238.70 L522.51,239.20 L522.43,239.70 L522.35,240.20 L522.27,240.70 L522.19,241.20 L522.11,241.70 L522.02,242.20 L521.93,242.70 L521.84,243.20 L521.75,243.70 L521.65,244.20 L521.55,244.70 L521.45,245.20 L521.34,245.70 L521.23,246.20 L521.12,246.70 L521.00,247.20 L520.87,247.70 L520.74,248.20 L520.60,248.70 L520.45,249.20 L520.29,249.70 L520.13,250.20 L519.96,250.70 L519.79,251.20 L519.60,251.70 L519.42,252.20 L519.23,252.70 L519.03,253.20 L518.83,253.70 L518.62,254.20 L518.42,254.70 L518.20,255.20 L517.99,255.70 L517.76,256.20 L517.52,256.70 L517.28,257.20 L517.02,257.70 L516.74,258.20 L516.45,258.70 L516.13,259.20 L515.80,259.70 L515.42,260.20 L514.98,260.70 L514.49,261.20 L513.96,261.70 L513.40,262.20 L512.83,262.70 L512.25,263.20 L511.68,263.70 L511.12,264.20 L510.60,264.70 L510.11,265.20 L509.62,265.70 L509.14,266.20 L508.66,266.70 L508.18,267.20 L507.72,267.70 L507.26,268.20 L506.82,268.70 L506.39,269.20 L505.99,269.70 L505.60,270.20 L505.23,270.70 L504.87,271.20 L504.52,271.70 L504.18,272.20 L503.84,272.70 L503.52,273.20 L503.20,273.70 L502.90,274.20 L502.59,274.70 L502.30,275.20 L502.02,275.70 L501.74,276.20 L501.47,276.70 L501.20,277.20 L500.94,277.70 L500.70,278.20 L500.46,278.70 L500.22,279.20 L500.00,279.70 L499.78,280.20 L499.56,280.70 L499.34,281.20 L499.13,281.70 L498.92,282.20 L498.70,282.70 L498.49,283.20 L498.27,283.70 L498.08,284.20 L497.91,284.70 L497.74,285.20 L497.58,285.70 L497.42,286.20 L497.24,286.70 L497.04,287.20 L496.82,287.70 L496.57,288.20 L496.27,288.70 L495.92,289.20 L495.38,289.70 L494.63,290.20 L493.72,290.70 L492.72,291.20 L491.69,291.70 L490.68,292.20 L489.72,292.70 L488.67,293.20 L487.56,293.70 L486.43,294.20 L485.33,294.70 L484.29,295.20 L483.37,295.70 L482.60,296.20 L481.91,296.70 L481.22,297.20 L480.54,297.70 L479.90,298.20 L479.34,298.70 L478.87,299.20 L478.53,299.70 L478.33,300.20 L478.31,300.70 L478.41,301.20 L478.61,301.70 L478.89,302.20 L479.23,302.70 L479.63,303.20 L480.15,303.70 L481.11,304.20 L482.43,304.70 L484.02,305.20 L485.77,305.70 L487.56,306.20 L489.30,306.70 L491.04,307.20 L492.91,307.70 L494.89,308.20 L496.95,308.70 L499.07,309.20 L501.24,309.70 L503.53,310.20 L505.93,310.70 L508.36,311.20 L509.80,311.50 L540.40,311.50 L541.84,311.20 L544.27,310.70 L546.67,310.20 L548.96,309.70 L551.13,309.20 L553.25,308.70 L555.31,308.20 L557.29,307.70 L559.16,307.20 L560.90,306.70 L562.64,306.20 L564.43,305.70 L566.18,305.20 L567.77,304.70 L569.09,304.20 L570.05,303.70 L570.57,303.20 L570.97,302.70 L571.31,302.20 L571.59,301.70 L571.79,301.20 L571.89,300.70 L571.87,300.20 L571.67,299.70 L571.33,299.20 L570.86,298.70 L570.30,298.20 L569.66,297.70 L568.98,297.20 L568.29,296.70 L567.60,296.20 L566.83,295.70 L565.91,295.20 L564.87,294.70 L563.77,294.20 L562.64,293.70 L561.53,293.20 L560.48,292.70 L559.52,292.20 L558.51,291.70 L557.48,291.20 L556.48,290.70 L555.57,290.20 L554.82,289.70 L554.28,289.20 L553.93,288.70 L553.63,288.20 L553.38,287.70 L553.16,287.20 L552.96,286.70 L552.78,286.20 L552.62,285.70 L552.46,285.20 L552.29,284.70 L552.12,284.20 L551.93,283.70 L551.71,283.20 L551.50,282.70 L551.28,282.20 L551.07,281.70 L550.86,281.20 L550.64,280.70 L550.42,280.20 L550.20,279.70 L549.98,279.20 L549.74,278.70 L549.50,278.20 L549.26,277.70 L549.00,277.20 L548.73,276.70 L548.46,276.20 L548.18,275.70 L547.90,275.20 L547.61,274.70 L547.30,274.20 L547.00,273.70 L546.68,273.20 L546.36,272.70 L546.02,272.20 L545.68,271.70 L545.33,271.20 L544.97,270.70 L544.60,270.20 L544.21,269.70 L543.81,269.20 L543.38,268.70 L542.94,268.20 L542.48,267.70 L542.02,267.20 L541.54,266.70 L541.06,266.20 L540.58,265.70 L540.09,265.20 L539.60,264.70 L539.08,264.20 L538.52,263.70 L537.95,263.20 L537.37,262.70 L536.80,262.20 L536.24,261.70 L535.71,261.20 L535.22,260.70 L534.78,260.20 L534.40,259.70 L534.07,259.20 L533.75,258.70 L533.46,258.20 L533.18,257.70 L532.92,257.20 L532.68,256.70 L532.44,256.20 L532.21,255.70 L532.00,255.20 L531.78,254.70 L531.58,254.20 L531.37,253.70 L531.17,253.20 L530.97,252.70 L530.78,252.20 L530.60,251.70 L530.41,251.20 L530.24,250.70 L530.07,250.20 L529.91,249.70 L529.75,249.20 L529.60,248.70 L529.46,248.20 L529.33,247.70 L529.20,247.20 L529.08,246.70 L528.97,246.20 L528.86,245.70 L528.75,245.20 L528.65,244.70 L528.55,244.20 L528.45,243.70 L528.36,243.20 L528.27,242.70 L528.18,242.20 L528.09,241.70 L528.01,241.20 L527.93,240.70 L527.85,240.20 L527.77,239.70 L527.69,239.20 L527.62,238.70 L527.54,238.20 L527.46,237.70 L527.38,237.20 L527.31,236.70 L527.23,236.20 L527.15,235.70 L527.07,235.20 L526.99,234.70 L526.92,234.20 L526.84,233.70 L526.77,233.20 L526.69,232.70 L526.62,232.20 L526.55,231.70 L526.48,231.20 L526.42,230.70 L526.35,230.20 L526.29,229.70 L526.24,229.20 L526.18,228.70 L526.13,228.20 L526.08,227.70 L526.04,227.20 L526.00,226.70 L525.97,226.20 L525.93,225.70 L525.91,225.20 L525.89,224.70 L525.87,224.20 L525.84,223.70 L525.82,223.20 L525.80,222.70 L525.78,222.20 L525.76,221.70 L525.74,221.20 L525.73,220.70 L525.71,220.20 L525.69,219.70 L525.67,219.20 L525.65,218.70 L525.63,218.20 L525.62,217.70 L525.60,217.20 L525.58,216.70 L525.57,216.20 L525.55,215.70 L525.53,215.20 L525.52,214.70 L525.50,214.20 L525.49,213.70 L525.47,213.20 L525.46,212.70 L525.45,212.20 L525.43,211.70 L525.42,211.20 L525.41,210.70 L525.39,210.20 L525.38,209.70 L525.37,209.20 L525.36,208.70 L525.35,208.20 L525.34,207.70 L525.33,207.20 L525.32,206.70 L525.31,206.20 L525.30,205.70 L525.29,205.20 L525.28,204.70 L525.27,204.20 L525.27,203.70 L525.26,203.20 L525.25,202.70 L525.25,202.20 L525.24,201.70 L525.23,201.20 L525.23,200.70 L525.22,200.20 L525.22,199.70 L525.22,199.20 L525.21,198.70 L525.21,198.20 L525.21,197.70 L525.20,197.20 L525.20,196.70 L525.20,196.20 L525.20,195.70 L525.20,195.20 L525.20,194.70 L525.20,194.20 L525.20,193.70 L525.20,193.20 L525.20,192.70 L525.20,192.20 L525.20,191.70 L525.20,191.20 L525.20,190.70 L525.20,190.20 L525.20,189.70 L525.20,189.20 L525.20,188.70 L525.20,188.20 L525.20,187.70 L525.20,187.20 L525.20,186.70 L525.20,186.20 L525.20,185.70 L525.20,185.20 L525.20,184.70 L525.20,184.20 L525.20,183.70 L525.20,183.20 L525.20,182.70 L525.20,182.20 L525.20,181.70 L525.20,181.20 L525.20,180.70 L525.20,180.20 L525.20,179.70 L525.20,179.20 L525.20,178.70 L525.20,178.20 L525.20,177.70 L525.20,177.20 L525.20,176.70 L525.20,176.20 L525.20,175.70 L525.20,175.20 L525.20,174.70 L525.20,174.20 L525.20,173.70 L525.20,173.20 L525.20,172.70 L525.20,172.20 L525.20,171.70 L525.20,171.20 L525.20,170.70 L525.20,170.20 L525.20,169.70 L525.20,169.20 L525.20,168.70 L525.20,168.20 L525.20,167.70 L525.20,167.20 L525.20,166.70 L525.20,166.20 L525.20,165.70 L525.20,165.20 L525.20,164.70 L525.20,164.20 L525.20,163.70 L525.20,163.20 L525.20,162.70 L525.20,162.20 L525.20,161.70 L525.20,161.20 L525.20,160.70 L525.20,160.20 L525.20,159.70 L525.20,159.20 L525.20,158.70 L525.20,158.20 L525.20,157.70 L525.20,157.20 L525.20,156.70 L525.20,156.20 L525.20,155.70 L525.20,155.20 L525.20,154.70 L525.20,154.20 L525.20,153.70 L525.20,153.20 L525.20,152.70 L525.20,152.20 L525.20,151.70 L525.20,151.20 L525.20,150.70 L525.20,150.20 L525.20,149.70 L525.20,149.20 L525.20,148.70 L525.20,148.20 L525.20,147.70 L525.20,147.20 L525.20,146.70 L525.20,146.20 L525.20,145.70 L525.20,145.20 L525.20,144.70 L525.20,144.20 L525.20,143.70 L525.20,143.20 L525.20,142.70 L525.20,142.20 L525.20,141.70 L525.20,141.20 L525.20,140.70 L525.20,140.20 L525.20,139.70 L525.20,139.20 L525.20,138.70 Z" fill="none" stroke="#333" stroke-width="1.8" stroke-linejoin="round"/>
<rect x="494.2" y="275.6" width="62.1" height="25.6" fill="none" stroke="#333" stroke-width="1.8"/>
<line x1="494.2" y1="291.5" x2="556.3" y2="291.5" stroke="#333" stroke-width="3.5"/>
<circle cx="525.1" cy="153.8" r="2.95" fill="#333"/>
<circle cx="525.1" cy="163.0" r="2.95" fill="#333"/>
<circle cx="525.1" cy="166.2" r="2.95" fill="#333"/>
<circle cx="525.1" cy="194.0" r="2.95" fill="#333"/>
<circle cx="525.1" cy="195.5" r="2.95" fill="#333"/>
<circle cx="525.1" cy="203.6" r="2.95" fill="#333"/>
<line x1="525.1" y1="212.4" x2="525.1" y2="235.3" stroke="#333" stroke-width="5.6" stroke-linecap="round"/>
<line x1="510.2" y1="238.6" x2="540.5" y2="238.6" stroke="#111" stroke-width="2"/>
<rect x="4.3" y="385.8" width="620.6" height="374.5" rx="1.5" fill="none" stroke="#8c8c8c" stroke-width="1.4"/>
<text x="18.5" y="420.9" font-size="31.3" fill="#777">B.</text>
<line x1="88" y1="455.3" x2="542" y2="455.3" stroke="#dadada" stroke-width="1.8"/>
<text x="63.9" y="461.6" font-size="22.3" text-anchor="end" fill="#595959" stroke="#595959" stroke-width="0.2" textLength="53.6" lengthAdjust="spacingAndGlyphs">100%</text>
<line x1="88" y1="506.0" x2="542" y2="506.0" stroke="#dadada" stroke-width="1.8"/>
<text x="63.9" y="512.3" font-size="22.3" text-anchor="end" fill="#595959" stroke="#595959" stroke-width="0.2" textLength="41.9" lengthAdjust="spacingAndGlyphs">80%</text>
<line x1="88" y1="556.6" x2="542" y2="556.6" stroke="#dadada" stroke-width="1.8"/>
<text x="63.9" y="562.9" font-size="22.3" text-anchor="end" fill="#595959" stroke="#595959" stroke-width="0.2" textLength="41.9" lengthAdjust="spacingAndGlyphs">60%</text>
<line x1="88" y1="607.3" x2="542" y2="607.3" stroke="#dadada" stroke-width="1.8"/>
<text x="63.9" y="613.6" font-size="22.3" text-anchor="end" fill="#595959" stroke="#595959" stroke-width="0.2" textLength="41.9" lengthAdjust="spacingAndGlyphs">40%</text>
<line x1="88" y1="657.9" x2="542" y2="657.9" stroke="#dadada" stroke-width="1.8"/>
<text x="63.9" y="664.2" font-size="22.3" text-anchor="end" fill="#595959" stroke="#595959" stroke-width="0.2" textLength="41.9" lengthAdjust="spacingAndGlyphs">20%</text>
<line x1="88" y1="708.6" x2="542" y2="708.6" stroke="#dadada" stroke-width="1.8"/>
<text x="63.9" y="714.9" font-size="22.3" text-anchor="end" fill="#595959" stroke="#595959" stroke-width="0.2" textLength="30.3" lengthAdjust="spacingAndGlyphs">0%</text>
<rect x="132.2" y="455.0" width="61.6" height="253.6" fill="#636363"/>
<rect x="132.2" y="459.7" width="61.6" height="248.9" fill="#9e480e"/>
<rect x="132.2" y="468.4" width="61.6" height="240.2" fill="#f8cbad"/>
<rect x="132.2" y="489.2" width="61.6" height="219.4" fill="#70ad47"/>
<rect x="132.2" y="508.5" width="61.6" height="200.1" fill="#5b9bd5"/>
<rect x="132.2" y="529.6" width="61.6" height="179.0" fill="#ffc000"/>
<rect x="132.2" y="566.8" width="61.6" height="141.8" fill="#a5a5a5"/>
<rect x="132.2" y="603.5" width="61.6" height="105.1" fill="#ed7d31"/>
<rect x="132.2" y="645.8" width="61.6" height="62.8" fill="#4472c4"/>
<text x="163.0" y="683.5" font-size="14.8" text-anchor="middle" fill="#404040" stroke="#404040" stroke-width="0.3" textLength="27.5" lengthAdjust="spacingAndGlyphs">25%</text>
<text x="163.0" y="631.0" font-size="14.8" text-anchor="middle" fill="#404040" stroke="#404040" stroke-width="0.3" textLength="27.5" lengthAdjust="spacingAndGlyphs">17%</text>
<text x="163.0" y="591.5" font-size="14.8" text-anchor="middle" fill="#404040" stroke="#404040" stroke-width="0.3" textLength="27.5" lengthAdjust="spacingAndGlyphs">15%</text>
<text x="163.0" y="554.5" font-size="14.8" text-anchor="middle" fill="#404040" stroke="#404040" stroke-width="0.3" textLength="27.5" lengthAdjust="spacingAndGlyphs">14%</text>
<text x="163.0" y="525.4" font-size="14.8" text-anchor="middle" fill="#404040" stroke="#404040" stroke-width="0.3" textLength="19.9" lengthAdjust="spacingAndGlyphs">9%</text>
<text x="163.0" y="505.2" font-size="14.8" text-anchor="middle" fill="#404040" stroke="#404040" stroke-width="0.3" textLength="19.9" lengthAdjust="spacingAndGlyphs">8%</text>
<text x="163.0" y="485.1" font-size="14.8" text-anchor="middle" fill="#404040" stroke="#404040" stroke-width="0.3" textLength="19.9" lengthAdjust="spacingAndGlyphs">8%</text>
<text x="163.0" y="746.9" font-size="22.5" text-anchor="middle" fill="#595959" stroke="#595959" stroke-width="0.2" textLength="55.5" lengthAdjust="spacingAndGlyphs">MCL1</text>
<rect x="284.9" y="454.6" width="59.7" height="254.0" fill="#636363"/>
<rect x="284.9" y="460.0" width="59.7" height="248.6" fill="#9e480e"/>
<rect x="284.9" y="468.7" width="59.7" height="239.9" fill="#f8cbad"/>
<rect x="284.9" y="485.8" width="59.7" height="222.8" fill="#70ad47"/>
<rect x="284.9" y="507.0" width="59.7" height="201.6" fill="#5b9bd5"/>
<rect x="284.9" y="529.7" width="59.7" height="178.9" fill="#ffc000"/>
<rect x="284.9" y="567.0" width="59.7" height="141.6" fill="#a5a5a5"/>
<rect x="284.9" y="603.7" width="59.7" height="104.9" fill="#ed7d31"/>
<rect x="284.9" y="643.7" width="59.7" height="64.9" fill="#4472c4"/>
<text x="314.8" y="682.5" font-size="14.8" text-anchor="middle" fill="#404040" stroke="#404040" stroke-width="0.3" textLength="27.5" lengthAdjust="spacingAndGlyphs">25%</text>
<text x="314.8" y="630.0" font-size="14.8" text-anchor="middle" fill="#404040" stroke="#404040" stroke-width="0.3" textLength="27.5" lengthAdjust="spacingAndGlyphs">16%</text>
<text x="314.8" y="591.7" font-size="14.8" text-anchor="middle" fill="#404040" stroke="#404040" stroke-width="0.3" textLength="27.5" lengthAdjust="spacingAndGlyphs">14%</text>
<text x="314.8" y="554.7" font-size="14.8" text-anchor="middle" fill="#404040" stroke="#404040" stroke-width="0.3" textLength="27.5" lengthAdjust="spacingAndGlyphs">14%</text>
<text x="314.8" y="524.7" font-size="14.8" text-anchor="middle" fill="#404040" stroke="#404040" stroke-width="0.3" textLength="19.9" lengthAdjust="spacingAndGlyphs">9%</text>
<text x="314.8" y="502.7" font-size="14.8" text-anchor="middle" fill="#404040" stroke="#404040" stroke-width="0.3" textLength="19.9" lengthAdjust="spacingAndGlyphs">8%</text>
<text x="314.8" y="483.6" font-size="14.8" text-anchor="middle" fill="#404040" stroke="#404040" stroke-width="0.3" textLength="19.9" lengthAdjust="spacingAndGlyphs">7%</text>
<text x="314.8" y="746.9" font-size="22.5" text-anchor="middle" fill="#595959" stroke="#595959" stroke-width="0.2" textLength="55.5" lengthAdjust="spacingAndGlyphs">MCL2</text>
<rect x="436.0" y="454.6" width="61.3" height="254.0" fill="#636363"/>
<rect x="436.0" y="460.0" width="61.3" height="248.6" fill="#9e480e"/>
<rect x="436.0" y="468.7" width="61.3" height="239.9" fill="#f8cbad"/>
<rect x="436.0" y="485.8" width="61.3" height="222.8" fill="#70ad47"/>
<rect x="436.0" y="508.5" width="61.3" height="200.1" fill="#5b9bd5"/>
<rect x="436.0" y="531.6" width="61.3" height="177.0" fill="#ffc000"/>
<rect x="436.0" y="568.9" width="61.3" height="139.7" fill="#a5a5a5"/>
<rect x="436.0" y="607.1" width="61.3" height="101.5" fill="#ed7d31"/>
<rect x="436.0" y="647.6" width="61.3" height="61.0" fill="#4472c4"/>
<text x="466.6" y="684.4" font-size="14.8" text-anchor="middle" fill="#404040" stroke="#404040" stroke-width="0.3" textLength="27.5" lengthAdjust="spacingAndGlyphs">24%</text>
<text x="466.6" y="633.7" font-size="14.8" text-anchor="middle" fill="#404040" stroke="#404040" stroke-width="0.3" textLength="27.5" lengthAdjust="spacingAndGlyphs">16%</text>
<text x="466.6" y="594.3" font-size="14.8" text-anchor="middle" fill="#404040" stroke="#404040" stroke-width="0.3" textLength="27.5" lengthAdjust="spacingAndGlyphs">15%</text>
<text x="466.6" y="556.6" font-size="14.8" text-anchor="middle" fill="#404040" stroke="#404040" stroke-width="0.3" textLength="27.5" lengthAdjust="spacingAndGlyphs">15%</text>
<text x="466.6" y="526.4" font-size="14.8" text-anchor="middle" fill="#404040" stroke="#404040" stroke-width="0.3" textLength="19.9" lengthAdjust="spacingAndGlyphs">9%</text>
<text x="466.6" y="503.4" font-size="14.8" text-anchor="middle" fill="#404040" stroke="#404040" stroke-width="0.3" textLength="19.9" lengthAdjust="spacingAndGlyphs">9%</text>
<text x="466.6" y="483.6" font-size="14.8" text-anchor="middle" fill="#404040" stroke="#404040" stroke-width="0.3" textLength="19.9" lengthAdjust="spacingAndGlyphs">7%</text>
<text x="466.6" y="746.9" font-size="22.5" text-anchor="middle" fill="#595959" stroke="#595959" stroke-width="0.2" textLength="55.5" lengthAdjust="spacingAndGlyphs">MCL3</text>
<polyline points="163.2,455 207.7,442.8 215.3,442.8" fill="none" stroke="#a6a6a6" stroke-width="1.4"/>
<text x="220.6" y="448.8" font-size="14.8" fill="#404040" stroke="#404040" stroke-width="0.3" textLength="19.9" lengthAdjust="spacingAndGlyphs">2%</text>
<polyline points="316.5,455.2 352.7,444.5 359.3,444.5" fill="none" stroke="#a6a6a6" stroke-width="1.4"/>
<text x="365.0" y="450.5" font-size="14.8" fill="#404040" stroke="#404040" stroke-width="0.3" textLength="19.9" lengthAdjust="spacingAndGlyphs">2%</text>
<polyline points="467.4,455 494.2,444.5 499.4,444.5" fill="none" stroke="#a6a6a6" stroke-width="1.4"/>
<text x="506.1" y="450.5" font-size="14.8" fill="#404040" stroke="#404040" stroke-width="0.3" textLength="19.9" lengthAdjust="spacingAndGlyphs">2%</text>
<text x="201.4" y="474.0" font-size="14.8" fill="#404040" stroke="#404040" stroke-width="0.3" textLength="19.9" lengthAdjust="spacingAndGlyphs">4%</text>
<text x="352.5" y="474.0" font-size="14.8" fill="#404040" stroke="#404040" stroke-width="0.3" textLength="19.9" lengthAdjust="spacingAndGlyphs">4%</text>
<text x="500.5" y="474.0" font-size="14.8" fill="#404040" stroke="#404040" stroke-width="0.3" textLength="19.9" lengthAdjust="spacingAndGlyphs">4%</text>
<rect x="569.2" y="475.5" width="9" height="8.5" fill="#636363"/>
<text x="582.4" y="484.3" font-size="13.6" fill="#595959" stroke="#595959" stroke-width="0.25" textLength="26.5" lengthAdjust="spacingAndGlyphs">NRS</text>
<rect x="569.2" y="505.1" width="9" height="8.5" fill="#9e480e"/>
<text x="582.4" y="513.9" font-size="13.6" fill="#595959" stroke="#595959" stroke-width="0.25" textLength="23.2" lengthAdjust="spacingAndGlyphs">ALT</text>
<rect x="569.2" y="534.7" width="9" height="8.5" fill="#f8cbad"/>
<text x="582.4" y="543.5" font-size="13.6" fill="#595959" stroke="#595959" stroke-width="0.25" textLength="27.2" lengthAdjust="spacingAndGlyphs">ACU</text>
<rect x="569.2" y="564.3" width="9" height="8.5" fill="#70ad47"/>
<text x="582.4" y="573.1" font-size="13.6" fill="#595959" stroke="#595959" stroke-width="0.25" textLength="26.5" lengthAdjust="spacingAndGlyphs">VAR</text>
<rect x="569.2" y="593.9" width="9" height="8.5" fill="#5b9bd5"/>
<text x="582.4" y="602.7" font-size="13.6" fill="#595959" stroke="#595959" stroke-width="0.25" textLength="27.2" lengthAdjust="spacingAndGlyphs">NAT</text>
<rect x="569.2" y="623.5" width="9" height="8.5" fill="#ffc000"/>
<text x="582.4" y="632.2" font-size="13.6" fill="#595959" stroke="#595959" stroke-width="0.25" textLength="30.5" lengthAdjust="spacingAndGlyphs">MED</text>
<rect x="569.2" y="653.0" width="9" height="8.5" fill="#a5a5a5"/>
<text x="582.4" y="661.8" font-size="13.6" fill="#595959" stroke="#595959" stroke-width="0.25" textLength="25.4" lengthAdjust="spacingAndGlyphs">BEH</text>
<rect x="569.2" y="682.6" width="9" height="8.5" fill="#ed7d31"/>
<text x="582.4" y="691.4" font-size="13.6" fill="#595959" stroke="#595959" stroke-width="0.25" textLength="31.4" lengthAdjust="spacingAndGlyphs">CHIR</text>
<rect x="569.2" y="712.2" width="9" height="8.5" fill="#4472c4"/>
<text x="582.4" y="721.0" font-size="13.6" fill="#595959" stroke="#595959" stroke-width="0.25" textLength="17.3" lengthAdjust="spacingAndGlyphs">PR</text>
</svg>
</body></html>
